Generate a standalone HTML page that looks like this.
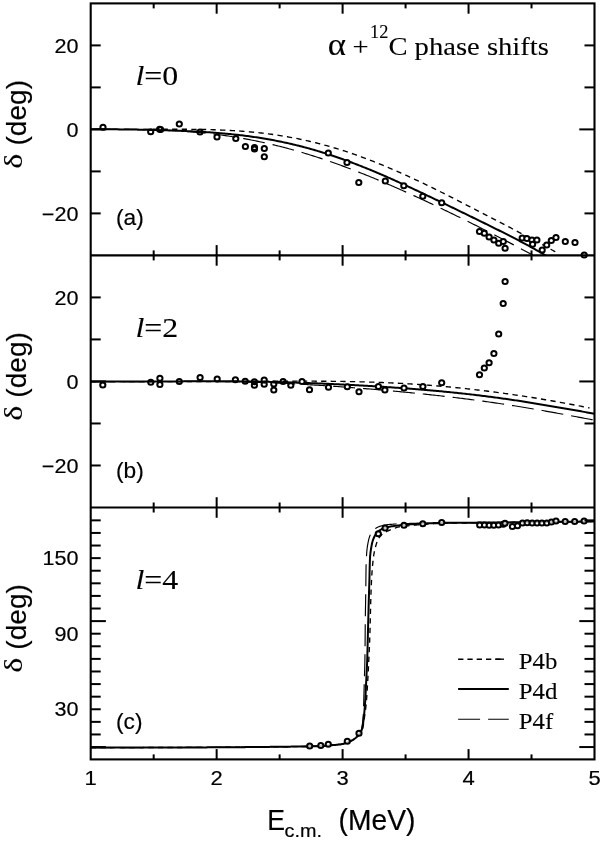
<!DOCTYPE html>
<html lang="en"><head><meta charset="utf-8"><title>alpha + 12C phase shifts</title>
<style>html,body{margin:0;padding:0;background:#fff}svg{display:block}.h{font-family:"Liberation Sans", Arial, Helvetica, sans-serif;fill:#000;stroke:#000;stroke-width:.18px}.t{font-family:"Liberation Serif", "Times New Roman", Times, serif;fill:#000;stroke:#000;stroke-width:.1px}</style></head><body>
<svg width="600" height="842" viewBox="0 0 600 842">
<rect x="0" y="0" width="600" height="842" fill="#fff"/>
<g fill="none" stroke="#000" stroke-linejoin="round">
<clipPath id="ca"><rect x="90.7" y="3.4" width="503.80" height="252.00"/></clipPath>
<g clip-path="url(#ca)">
<path d="M90.70,129.35 L120.00,129.35 L121.46,129.35 L122.91,129.35 L124.37,129.35 L125.83,129.35 L127.28,129.35 L128.74,129.34 L130.20,129.34 L131.65,129.34 L133.11,129.34 L134.57,129.34 L136.02,129.33 L137.48,129.33 L138.93,129.33 L140.39,129.32 L141.85,129.32 L143.30,129.31 L144.76,129.31 L146.22,129.30 L147.67,129.30 L149.13,129.29 L150.59,129.29 L152.04,129.28 L153.50,129.28 L154.96,129.27 L156.41,129.27 L157.87,129.27 L159.33,129.26 L160.78,129.26 L162.24,129.25 L163.70,129.25 L165.15,129.25 L166.61,129.24 L168.07,129.24 L169.52,129.24 L170.98,129.24 L172.43,129.24 L173.89,129.24 L175.35,129.24 L176.80,129.24 L178.26,129.24 L179.72,129.24 L181.17,129.25 L182.63,129.25 L184.09,129.26 L185.54,129.27 L187.00,129.28 L188.46,129.29 L189.91,129.30 L191.37,129.31 L192.83,129.33 L194.28,129.34 L195.74,129.36 L197.20,129.38 L198.65,129.40 L200.11,129.43 L201.57,129.45 L203.02,129.48 L204.48,129.51 L205.93,129.54 L207.39,129.57 L208.85,129.61 L210.30,129.65 L211.76,129.69 L213.22,129.73 L214.67,129.78 L216.13,129.83 L217.59,129.88 L219.04,129.93 L220.50,129.99 L221.96,130.05 L223.41,130.11 L224.87,130.18 L226.33,130.25 L227.78,130.32 L229.24,130.40 L230.70,130.48 L232.15,130.56 L233.61,130.64 L235.07,130.73 L236.52,130.83 L237.98,130.92 L239.43,131.02 L240.89,131.13 L242.35,131.23 L243.80,131.35 L245.26,131.46 L246.72,131.58 L248.17,131.71 L249.63,131.83 L251.09,131.97 L252.54,132.10 L254.00,132.24 L255.46,132.39 L256.91,132.54 L258.37,132.69 L259.83,132.85 L261.28,133.02 L262.74,133.18 L264.20,133.36 L265.65,133.53 L267.11,133.72 L268.57,133.90 L270.02,134.09 L271.48,134.29 L272.93,134.49 L274.39,134.70 L275.85,134.91 L277.30,135.13 L278.76,135.35 L280.22,135.58 L281.67,135.81 L283.13,136.05 L284.59,136.29 L286.04,136.54 L287.50,136.79 L288.96,137.05 L290.41,137.31 L291.87,137.58 L293.33,137.86 L294.78,138.14 L296.24,138.42 L297.70,138.71 L299.15,139.01 L300.61,139.31 L302.07,139.62 L303.52,139.93 L304.98,140.25 L306.43,140.58 L307.89,140.91 L309.35,141.24 L310.80,141.58 L312.26,141.93 L313.72,142.28 L315.17,142.64 L316.63,143.01 L318.09,143.37 L319.54,143.75 L321.00,144.13 L322.46,144.52 L323.91,144.91 L325.37,145.30 L326.83,145.71 L328.28,146.12 L329.74,146.53 L331.20,146.95 L332.65,147.38 L334.11,147.81 L335.57,148.24 L337.02,148.68 L338.48,149.13 L339.93,149.58 L341.39,150.04 L342.85,150.51 L344.30,150.97 L345.76,151.45 L347.22,151.93 L348.67,152.41 L350.13,152.90 L351.59,153.40 L353.04,153.90 L354.50,154.41 L355.96,154.92 L357.41,155.43 L358.87,155.96 L360.33,156.48 L361.78,157.01 L363.24,157.55 L364.70,158.09 L366.15,158.64 L367.61,159.19 L369.07,159.75 L370.52,160.31 L371.98,160.87 L373.43,161.44 L374.89,162.02 L376.35,162.60 L377.80,163.18 L379.26,163.77 L380.72,164.36 L382.17,164.96 L383.63,165.56 L385.09,166.17 L386.54,166.78 L388.00,167.39 L389.46,168.01 L390.91,168.63 L392.37,169.26 L393.83,169.89 L395.28,170.52 L396.74,171.16 L398.20,171.80 L399.65,172.45 L401.11,173.10 L402.57,173.75 L404.02,174.41 L405.48,175.07 L406.93,175.73 L408.39,176.40 L409.85,177.07 L411.30,177.74 L412.76,178.41 L414.22,179.09 L415.67,179.78 L417.13,180.46 L418.59,181.15 L420.04,181.84 L421.50,182.53 L422.96,183.23 L424.41,183.93 L425.87,184.63 L427.33,185.33 L428.78,186.04 L430.24,186.75 L431.70,187.46 L433.15,188.17 L434.61,188.88 L436.07,189.60 L437.52,190.32 L438.98,191.04 L440.43,191.76 L441.89,192.49 L443.35,193.22 L444.80,193.94 L446.26,194.67 L447.72,195.40 L449.17,196.14 L450.63,196.87 L452.09,197.61 L453.54,198.35 L455.00,199.08 L456.46,199.82 L457.91,200.56 L459.37,201.31 L460.83,202.05 L462.28,202.79 L463.74,203.54 L465.20,204.29 L466.65,205.03 L468.11,205.78 L469.57,206.53 L471.02,207.28 L472.48,208.03 L473.93,208.78 L475.39,209.53 L476.85,210.29 L478.30,211.04 L479.76,211.79 L481.22,212.55 L482.67,213.30 L484.13,214.06 L485.59,214.81 L487.04,215.57 L488.50,216.33 L489.96,217.08 L491.41,217.84 L492.87,218.60 L494.33,219.36 L495.78,220.11 L497.24,220.87 L498.70,221.63 L500.15,222.39 L501.61,223.15 L503.07,223.91 L504.52,224.67 L505.98,225.44 L507.43,226.20 L508.89,226.96 L510.35,227.72 L511.80,228.48 L513.26,229.25 L514.72,230.01 L516.17,230.78 L517.63,231.54 L519.09,232.31 L520.54,233.08 L522.00,233.84 L523.46,234.61 L524.91,235.38 L526.37,236.15 L527.83,236.92 L529.28,237.69 L530.74,238.47 L532.20,239.24 L533.65,240.02 L535.11,240.80 L536.57,241.58 L538.02,242.36 L539.48,243.14 L540.93,243.92 L542.39,244.71 L543.85,245.50 L545.30,246.29 L546.76,247.08 L548.22,247.88 L549.67,248.67 L551.13,249.47 L552.59,250.28 L554.04,251.08 L555.50,251.89" stroke-width="1.35" stroke-dasharray="5.3 4.3" stroke-dashoffset="-4.6"/>
<path d="M90.70,129.35 L110.00,129.35 L111.42,129.35 L112.85,129.35 L114.27,129.35 L115.70,129.35 L117.12,129.36 L118.55,129.36 L119.97,129.36 L121.40,129.37 L122.82,129.37 L124.25,129.38 L125.67,129.39 L127.10,129.39 L128.52,129.40 L129.95,129.41 L131.37,129.43 L132.80,129.44 L134.22,129.45 L135.65,129.47 L137.07,129.49 L138.49,129.51 L139.92,129.53 L141.34,129.55 L142.77,129.57 L144.19,129.60 L145.62,129.63 L147.04,129.66 L148.47,129.69 L149.89,129.73 L151.32,129.76 L152.74,129.80 L154.17,129.84 L155.59,129.88 L157.02,129.93 L158.44,129.98 L159.87,130.02 L161.29,130.08 L162.72,130.13 L164.14,130.19 L165.57,130.25 L166.99,130.31 L168.41,130.38 L169.84,130.44 L171.26,130.52 L172.69,130.59 L174.11,130.67 L175.54,130.74 L176.96,130.83 L178.39,130.91 L179.81,131.00 L181.24,131.09 L182.66,131.19 L184.09,131.28 L185.51,131.38 L186.94,131.49 L188.36,131.60 L189.79,131.71 L191.21,131.82 L192.64,131.94 L194.06,132.06 L195.48,132.18 L196.91,132.31 L198.33,132.44 L199.76,132.58 L201.18,132.71 L202.61,132.86 L204.03,133.00 L205.46,133.15 L206.88,133.30 L208.31,133.46 L209.73,133.62 L211.16,133.78 L212.58,133.95 L214.01,134.12 L215.43,134.29 L216.86,134.47 L218.28,134.66 L219.71,134.84 L221.13,135.03 L222.56,135.23 L223.98,135.43 L225.40,135.63 L226.83,135.83 L228.25,136.04 L229.68,136.26 L231.10,136.48 L232.53,136.70 L233.95,136.92 L235.38,137.15 L236.80,137.39 L238.23,137.62 L239.65,137.87 L241.08,138.11 L242.50,138.36 L243.93,138.62 L245.35,138.88 L246.78,139.14 L248.20,139.41 L249.63,139.68 L251.05,139.95 L252.47,140.23 L253.90,140.51 L255.32,140.80 L256.75,141.09 L258.17,141.39 L259.60,141.69 L261.02,141.99 L262.45,142.30 L263.87,142.61 L265.30,142.93 L266.72,143.25 L268.15,143.57 L269.57,143.90 L271.00,144.23 L272.42,144.57 L273.85,144.91 L275.27,145.25 L276.70,145.60 L278.12,145.96 L279.55,146.31 L280.97,146.67 L282.39,147.04 L283.82,147.41 L285.24,147.78 L286.67,148.16 L288.09,148.54 L289.52,148.93 L290.94,149.32 L292.37,149.71 L293.79,150.11 L295.22,150.51 L296.64,150.91 L298.07,151.32 L299.49,151.73 L300.92,152.15 L302.34,152.57 L303.77,153.00 L305.19,153.43 L306.62,153.86 L308.04,154.29 L309.46,154.73 L310.89,155.18 L312.31,155.63 L313.74,156.08 L315.16,156.53 L316.59,156.99 L318.01,157.45 L319.44,157.92 L320.86,158.39 L322.29,158.86 L323.71,159.34 L325.14,159.82 L326.56,160.30 L327.99,160.79 L329.41,161.28 L330.84,161.78 L332.26,162.27 L333.69,162.77 L335.11,163.28 L336.54,163.79 L337.96,164.30 L339.38,164.81 L340.81,165.33 L342.23,165.85 L343.66,166.38 L345.08,166.91 L346.51,167.44 L347.93,167.97 L349.36,168.51 L350.78,169.05 L352.21,169.59 L353.63,170.14 L355.06,170.69 L356.48,171.24 L357.91,171.80 L359.33,172.35 L360.76,172.92 L362.18,173.48 L363.61,174.05 L365.03,174.62 L366.45,175.19 L367.88,175.76 L369.30,176.34 L370.73,176.92 L372.15,177.51 L373.58,178.09 L375.00,178.68 L376.43,179.27 L377.85,179.87 L379.28,180.46 L380.70,181.06 L382.13,181.67 L383.55,182.27 L384.98,182.88 L386.40,183.48 L387.83,184.10 L389.25,184.71 L390.68,185.33 L392.10,185.94 L393.53,186.56 L394.95,187.19 L396.37,187.81 L397.80,188.44 L399.22,189.07 L400.65,189.70 L402.07,190.33 L403.50,190.97 L404.92,191.60 L406.35,192.24 L407.77,192.89 L409.20,193.53 L410.62,194.17 L412.05,194.82 L413.47,195.47 L414.90,196.12 L416.32,196.77 L417.75,197.43 L419.17,198.08 L420.60,198.74 L422.02,199.40 L423.44,200.06 L424.87,200.73 L426.29,201.39 L427.72,202.06 L429.14,202.73 L430.57,203.39 L431.99,204.07 L433.42,204.74 L434.84,205.41 L436.27,206.09 L437.69,206.77 L439.12,207.45 L440.54,208.13 L441.97,208.81 L443.39,209.49 L444.82,210.17 L446.24,210.86 L447.67,211.55 L449.09,212.24 L450.52,212.93 L451.94,213.62 L453.36,214.31 L454.79,215.01 L456.21,215.70 L457.64,216.40 L459.06,217.10 L460.49,217.80 L461.91,218.50 L463.34,219.20 L464.76,219.90 L466.19,220.61 L467.61,221.31 L469.04,222.02 L470.46,222.73 L471.89,223.44 L473.31,224.15 L474.74,224.86 L476.16,225.58 L477.59,226.29 L479.01,227.01 L480.43,227.73 L481.86,228.45 L483.28,229.17 L484.71,229.89 L486.13,230.61 L487.56,231.34 L488.98,232.06 L490.41,232.79 L491.83,233.52 L493.26,234.25 L494.68,234.98 L496.11,235.71 L497.53,236.45 L498.96,237.18 L500.38,237.92 L501.81,238.66 L503.23,239.40 L504.66,240.14 L506.08,240.89 L507.51,241.63 L508.93,242.38 L510.35,243.13 L511.78,243.88 L513.20,244.63 L514.63,245.38 L516.05,246.14 L517.48,246.90 L518.90,247.66 L520.33,248.42 L521.75,249.19 L523.18,249.95 L524.60,250.72 L526.03,251.49 L527.45,252.26 L528.88,253.04 L530.30,253.82 L531.73,254.60 L533.15,255.38 L534.58,256.16 L536.00,256.95" stroke-width="1.15" stroke-dasharray="22 8" stroke-dashoffset="-3.0"/>
<path d="M90.70,129.35 L110.00,129.35 L111.46,129.35 L112.93,129.35 L114.39,129.36 L115.86,129.37 L117.32,129.37 L118.79,129.38 L120.25,129.40 L121.72,129.41 L123.18,129.42 L124.65,129.44 L126.11,129.46 L127.58,129.48 L129.04,129.50 L130.51,129.52 L131.97,129.54 L133.44,129.56 L134.90,129.59 L136.37,129.61 L137.83,129.64 L139.30,129.67 L140.76,129.69 L142.23,129.72 L143.69,129.75 L145.16,129.78 L146.62,129.81 L148.09,129.85 L149.55,129.88 L151.02,129.92 L152.48,129.95 L153.95,129.99 L155.41,130.02 L156.88,130.06 L158.34,130.10 L159.81,130.14 L161.27,130.18 L162.74,130.22 L164.20,130.27 L165.67,130.31 L167.13,130.35 L168.60,130.40 L170.06,130.45 L171.53,130.50 L172.99,130.55 L174.45,130.60 L175.92,130.65 L177.38,130.71 L178.85,130.76 L180.31,130.82 L181.78,130.88 L183.24,130.94 L184.71,131.00 L186.17,131.06 L187.64,131.13 L189.10,131.19 L190.57,131.26 L192.03,131.33 L193.50,131.41 L194.96,131.48 L196.43,131.56 L197.89,131.64 L199.36,131.72 L200.82,131.80 L202.29,131.89 L203.75,131.98 L205.22,132.07 L206.68,132.16 L208.15,132.26 L209.61,132.36 L211.08,132.46 L212.54,132.57 L214.01,132.67 L215.47,132.79 L216.94,132.90 L218.40,133.02 L219.87,133.14 L221.33,133.26 L222.80,133.38 L224.26,133.51 L225.73,133.65 L227.19,133.78 L228.66,133.92 L230.12,134.07 L231.59,134.22 L233.05,134.37 L234.52,134.52 L235.98,134.68 L237.44,134.84 L238.91,135.01 L240.37,135.18 L241.84,135.36 L243.30,135.53 L244.77,135.72 L246.23,135.90 L247.70,136.10 L249.16,136.29 L250.63,136.49 L252.09,136.70 L253.56,136.91 L255.02,137.12 L256.49,137.34 L257.95,137.56 L259.42,137.79 L260.88,138.02 L262.35,138.26 L263.81,138.50 L265.28,138.75 L266.74,139.00 L268.21,139.26 L269.67,139.52 L271.14,139.79 L272.60,140.06 L274.07,140.34 L275.53,140.62 L277.00,140.90 L278.46,141.20 L279.93,141.49 L281.39,141.80 L282.86,142.11 L284.32,142.42 L285.79,142.74 L287.25,143.06 L288.72,143.39 L290.18,143.72 L291.65,144.06 L293.11,144.41 L294.58,144.76 L296.04,145.12 L297.51,145.48 L298.97,145.84 L300.43,146.21 L301.90,146.59 L303.36,146.97 L304.83,147.36 L306.29,147.76 L307.76,148.15 L309.22,148.56 L310.69,148.97 L312.15,149.38 L313.62,149.80 L315.08,150.23 L316.55,150.66 L318.01,151.10 L319.48,151.54 L320.94,151.98 L322.41,152.43 L323.87,152.89 L325.34,153.35 L326.80,153.82 L328.27,154.29 L329.73,154.77 L331.20,155.25 L332.66,155.74 L334.13,156.23 L335.59,156.73 L337.06,157.23 L338.52,157.74 L339.99,158.25 L341.45,158.77 L342.92,159.29 L344.38,159.82 L345.85,160.35 L347.31,160.89 L348.78,161.43 L350.24,161.97 L351.71,162.52 L353.17,163.08 L354.64,163.63 L356.10,164.20 L357.57,164.76 L359.03,165.34 L360.49,165.91 L361.96,166.49 L363.42,167.07 L364.89,167.66 L366.35,168.25 L367.82,168.85 L369.28,169.45 L370.75,170.05 L372.21,170.66 L373.68,171.27 L375.14,171.88 L376.61,172.50 L378.07,173.12 L379.54,173.74 L381.00,174.37 L382.47,175.00 L383.93,175.64 L385.40,176.27 L386.86,176.91 L388.33,177.56 L389.79,178.20 L391.26,178.85 L392.72,179.50 L394.19,180.16 L395.65,180.81 L397.12,181.47 L398.58,182.13 L400.05,182.80 L401.51,183.47 L402.98,184.13 L404.44,184.80 L405.91,185.48 L407.37,186.15 L408.84,186.83 L410.30,187.51 L411.77,188.19 L413.23,188.87 L414.70,189.56 L416.16,190.24 L417.63,190.93 L419.09,191.62 L420.56,192.31 L422.02,193.00 L423.48,193.69 L424.95,194.39 L426.41,195.08 L427.88,195.78 L429.34,196.48 L430.81,197.18 L432.27,197.88 L433.74,198.58 L435.20,199.28 L436.67,199.98 L438.13,200.69 L439.60,201.39 L441.06,202.10 L442.53,202.80 L443.99,203.51 L445.46,204.22 L446.92,204.92 L448.39,205.63 L449.85,206.34 L451.32,207.05 L452.78,207.76 L454.25,208.47 L455.71,209.18 L457.18,209.89 L458.64,210.60 L460.11,211.31 L461.57,212.03 L463.04,212.74 L464.50,213.45 L465.97,214.16 L467.43,214.88 L468.90,215.59 L470.36,216.31 L471.83,217.02 L473.29,217.74 L474.76,218.45 L476.22,219.17 L477.69,219.88 L479.15,220.60 L480.62,221.32 L482.08,222.04 L483.55,222.76 L485.01,223.48 L486.47,224.20 L487.94,224.92 L489.40,225.64 L490.87,226.37 L492.33,227.09 L493.80,227.82 L495.26,228.55 L496.73,229.28 L498.19,230.01 L499.66,230.74 L501.12,231.48 L502.59,232.21 L504.05,232.95 L505.52,233.69 L506.98,234.43 L508.45,235.18 L509.91,235.93 L511.38,236.68 L512.84,237.43 L514.31,238.18 L515.77,238.94 L517.24,239.71 L518.70,240.47 L520.17,241.24 L521.63,242.02 L523.10,242.80 L524.56,243.58 L526.03,244.37 L527.49,245.16 L528.96,245.96 L530.42,246.76 L531.89,247.57 L533.35,248.39 L534.82,249.21 L536.28,250.04 L537.75,250.87 L539.21,251.72 L540.68,252.57 L542.14,253.42 L543.61,254.29 L545.07,255.17 L546.54,256.05 L548.00,256.94" stroke-width="2.0"/>
</g>
<path d="M90.70,381.55 L150.00,381.55 L151.47,381.55 L152.94,381.55 L154.41,381.55 L155.88,381.55 L157.35,381.56 L158.82,381.56 L160.29,381.56 L161.76,381.56 L163.23,381.57 L164.70,381.57 L166.17,381.57 L167.64,381.57 L169.11,381.58 L170.58,381.58 L172.05,381.58 L173.52,381.59 L174.99,381.59 L176.46,381.59 L177.93,381.60 L179.40,381.60 L180.87,381.60 L182.34,381.60 L183.81,381.61 L185.28,381.61 L186.75,381.61 L188.22,381.61 L189.69,381.61 L191.16,381.62 L192.63,381.62 L194.10,381.62 L195.57,381.62 L197.04,381.62 L198.51,381.62 L199.98,381.62 L201.45,381.62 L202.92,381.62 L204.39,381.61 L205.86,381.61 L207.33,381.61 L208.80,381.61 L210.27,381.61 L211.74,381.60 L213.21,381.60 L214.68,381.60 L216.15,381.59 L217.62,381.59 L219.09,381.58 L220.56,381.58 L222.03,381.57 L223.49,381.57 L224.96,381.56 L226.43,381.56 L227.90,381.55 L229.37,381.55 L230.84,381.54 L232.31,381.53 L233.78,381.52 L235.25,381.52 L236.72,381.51 L238.19,381.50 L239.66,381.49 L241.13,381.49 L242.60,381.48 L244.07,381.47 L245.54,381.46 L247.01,381.45 L248.48,381.44 L249.95,381.43 L251.42,381.42 L252.89,381.41 L254.36,381.40 L255.83,381.40 L257.30,381.39 L258.77,381.38 L260.24,381.37 L261.71,381.36 L263.18,381.35 L264.65,381.34 L266.12,381.33 L267.59,381.32 L269.06,381.31 L270.53,381.30 L272.00,381.29 L273.47,381.29 L274.94,381.28 L276.41,381.27 L277.88,381.26 L279.35,381.25 L280.82,381.25 L282.29,381.24 L283.76,381.23 L285.23,381.22 L286.70,381.22 L288.17,381.21 L289.64,381.21 L291.11,381.20 L292.58,381.20 L294.05,381.19 L295.52,381.19 L296.99,381.19 L298.46,381.18 L299.93,381.18 L301.40,381.18 L302.87,381.18 L304.34,381.18 L305.81,381.18 L307.28,381.18 L308.75,381.18 L310.22,381.18 L311.69,381.19 L313.16,381.19 L314.63,381.19 L316.10,381.20 L317.57,381.20 L319.04,381.21 L320.51,381.22 L321.98,381.23 L323.45,381.23 L324.92,381.24 L326.39,381.26 L327.86,381.27 L329.33,381.28 L330.80,381.29 L332.27,381.31 L333.74,381.32 L335.21,381.34 L336.68,381.36 L338.15,381.38 L339.62,381.40 L341.09,381.42 L342.56,381.44 L344.03,381.46 L345.50,381.49 L346.97,381.51 L348.44,381.54 L349.91,381.57 L351.38,381.60 L352.85,381.63 L354.32,381.66 L355.79,381.69 L357.26,381.73 L358.73,381.76 L360.20,381.80 L361.67,381.84 L363.14,381.88 L364.61,381.92 L366.08,381.96 L367.55,382.00 L369.02,382.05 L370.48,382.09 L371.95,382.14 L373.42,382.19 L374.89,382.24 L376.36,382.29 L377.83,382.35 L379.30,382.40 L380.77,382.46 L382.24,382.52 L383.71,382.58 L385.18,382.64 L386.65,382.70 L388.12,382.77 L389.59,382.83 L391.06,382.90 L392.53,382.97 L394.00,383.04 L395.47,383.12 L396.94,383.19 L398.41,383.27 L399.88,383.34 L401.35,383.42 L402.82,383.50 L404.29,383.59 L405.76,383.67 L407.23,383.76 L408.70,383.84 L410.17,383.93 L411.64,384.02 L413.11,384.12 L414.58,384.21 L416.05,384.31 L417.52,384.41 L418.99,384.51 L420.46,384.61 L421.93,384.71 L423.40,384.82 L424.87,384.92 L426.34,385.03 L427.81,385.14 L429.28,385.26 L430.75,385.37 L432.22,385.49 L433.69,385.60 L435.16,385.72 L436.63,385.84 L438.10,385.97 L439.57,386.09 L441.04,386.22 L442.51,386.35 L443.98,386.48 L445.45,386.61 L446.92,386.74 L448.39,386.88 L449.86,387.02 L451.33,387.16 L452.80,387.30 L454.27,387.44 L455.74,387.59 L457.21,387.73 L458.68,387.88 L460.15,388.03 L461.62,388.18 L463.09,388.34 L464.56,388.49 L466.03,388.65 L467.50,388.81 L468.97,388.97 L470.44,389.13 L471.91,389.30 L473.38,389.46 L474.85,389.63 L476.32,389.80 L477.79,389.97 L479.26,390.15 L480.73,390.32 L482.20,390.50 L483.67,390.68 L485.14,390.86 L486.61,391.04 L488.08,391.22 L489.55,391.41 L491.02,391.60 L492.49,391.79 L493.96,391.98 L495.43,392.17 L496.90,392.37 L498.37,392.56 L499.84,392.76 L501.31,392.96 L502.78,393.16 L504.25,393.36 L505.72,393.57 L507.19,393.78 L508.66,393.98 L510.13,394.19 L511.60,394.41 L513.07,394.62 L514.54,394.83 L516.01,395.05 L517.47,395.27 L518.94,395.49 L520.41,395.71 L521.88,395.93 L523.35,396.16 L524.82,396.38 L526.29,396.61 L527.76,396.84 L529.23,397.07 L530.70,397.31 L532.17,397.54 L533.64,397.78 L535.11,398.02 L536.58,398.26 L538.05,398.50 L539.52,398.74 L540.99,398.99 L542.46,399.23 L543.93,399.48 L545.40,399.73 L546.87,399.98 L548.34,400.23 L549.81,400.49 L551.28,400.74 L552.75,401.00 L554.22,401.26 L555.69,401.52 L557.16,401.79 L558.63,402.05 L560.10,402.32 L561.57,402.58 L563.04,402.85 L564.51,403.12 L565.98,403.40 L567.45,403.67 L568.92,403.95 L570.39,404.22 L571.86,404.50 L573.33,404.78 L574.80,405.07 L576.27,405.35 L577.74,405.64 L579.21,405.92 L580.68,406.21 L582.15,406.51 L583.62,406.80 L585.09,407.09 L586.56,407.39 L588.03,407.69 L589.50,407.99" stroke-width="1.35" stroke-dasharray="5.3 4.3" stroke-dashoffset="0"/>
<path d="M90.70,381.55 L150.00,381.55 L151.49,381.55 L152.97,381.55 L154.46,381.55 L155.95,381.54 L157.43,381.54 L158.92,381.53 L160.41,381.53 L161.89,381.52 L163.38,381.52 L164.87,381.51 L166.35,381.51 L167.84,381.50 L169.33,381.49 L170.81,381.49 L172.30,381.48 L173.79,381.47 L175.27,381.47 L176.76,381.46 L178.25,381.45 L179.73,381.45 L181.22,381.44 L182.71,381.44 L184.19,381.43 L185.68,381.43 L187.17,381.43 L188.65,381.42 L190.14,381.42 L191.63,381.42 L193.11,381.42 L194.60,381.42 L196.09,381.42 L197.57,381.42 L199.06,381.42 L200.55,381.42 L202.03,381.43 L203.52,381.43 L205.01,381.44 L206.49,381.44 L207.98,381.45 L209.46,381.46 L210.95,381.47 L212.44,381.48 L213.92,381.49 L215.41,381.50 L216.90,381.52 L218.38,381.53 L219.87,381.55 L221.36,381.57 L222.84,381.58 L224.33,381.60 L225.82,381.62 L227.30,381.65 L228.79,381.67 L230.28,381.69 L231.76,381.72 L233.25,381.75 L234.74,381.77 L236.22,381.80 L237.71,381.83 L239.20,381.87 L240.68,381.90 L242.17,381.93 L243.66,381.97 L245.14,382.01 L246.63,382.04 L248.12,382.08 L249.60,382.12 L251.09,382.16 L252.58,382.21 L254.06,382.25 L255.55,382.30 L257.04,382.34 L258.52,382.39 L260.01,382.44 L261.50,382.49 L262.98,382.54 L264.47,382.60 L265.96,382.65 L267.44,382.71 L268.93,382.76 L270.42,382.82 L271.90,382.88 L273.39,382.94 L274.88,383.00 L276.36,383.06 L277.85,383.13 L279.34,383.19 L280.82,383.26 L282.31,383.33 L283.80,383.40 L285.28,383.46 L286.77,383.54 L288.26,383.61 L289.74,383.68 L291.23,383.75 L292.72,383.83 L294.20,383.91 L295.69,383.98 L297.18,384.06 L298.66,384.14 L300.15,384.22 L301.64,384.30 L303.12,384.39 L304.61,384.47 L306.10,384.55 L307.58,384.64 L309.07,384.73 L310.56,384.81 L312.04,384.90 L313.53,384.99 L315.02,385.08 L316.50,385.17 L317.99,385.27 L319.47,385.36 L320.96,385.45 L322.45,385.55 L323.93,385.64 L325.42,385.74 L326.91,385.84 L328.39,385.94 L329.88,386.04 L331.37,386.14 L332.85,386.24 L334.34,386.34 L335.83,386.45 L337.31,386.55 L338.80,386.66 L340.29,386.76 L341.77,386.87 L343.26,386.98 L344.75,387.08 L346.23,387.19 L347.72,387.30 L349.21,387.41 L350.69,387.53 L352.18,387.64 L353.67,387.75 L355.15,387.87 L356.64,387.98 L358.13,388.10 L359.61,388.21 L361.10,388.33 L362.59,388.45 L364.07,388.57 L365.56,388.69 L367.05,388.81 L368.53,388.93 L370.02,389.05 L371.51,389.18 L372.99,389.30 L374.48,389.43 L375.97,389.55 L377.45,389.68 L378.94,389.81 L380.43,389.93 L381.91,390.06 L383.40,390.19 L384.89,390.32 L386.37,390.45 L387.86,390.59 L389.35,390.72 L390.83,390.85 L392.32,390.99 L393.81,391.12 L395.29,391.26 L396.78,391.40 L398.27,391.54 L399.75,391.68 L401.24,391.82 L402.73,391.96 L404.21,392.10 L405.70,392.24 L407.19,392.39 L408.67,392.53 L410.16,392.68 L411.65,392.82 L413.13,392.97 L414.62,393.12 L416.11,393.27 L417.59,393.42 L419.08,393.57 L420.57,393.72 L422.05,393.88 L423.54,394.03 L425.03,394.19 L426.51,394.34 L428.00,394.50 L429.48,394.66 L430.97,394.82 L432.46,394.98 L433.94,395.14 L435.43,395.30 L436.92,395.47 L438.40,395.63 L439.89,395.80 L441.38,395.97 L442.86,396.14 L444.35,396.31 L445.84,396.48 L447.32,396.65 L448.81,396.82 L450.30,397.00 L451.78,397.17 L453.27,397.35 L454.76,397.53 L456.24,397.71 L457.73,397.89 L459.22,398.07 L460.70,398.25 L462.19,398.44 L463.68,398.63 L465.16,398.81 L466.65,399.00 L468.14,399.19 L469.62,399.38 L471.11,399.58 L472.60,399.77 L474.08,399.97 L475.57,400.16 L477.06,400.36 L478.54,400.56 L480.03,400.76 L481.52,400.97 L483.00,401.17 L484.49,401.38 L485.98,401.58 L487.46,401.79 L488.95,402.00 L490.44,402.21 L491.92,402.42 L493.41,402.64 L494.90,402.85 L496.38,403.07 L497.87,403.29 L499.36,403.51 L500.84,403.73 L502.33,403.96 L503.82,404.18 L505.30,404.41 L506.79,404.63 L508.28,404.86 L509.76,405.09 L511.25,405.33 L512.74,405.56 L514.22,405.80 L515.71,406.03 L517.20,406.27 L518.68,406.51 L520.17,406.75 L521.66,406.99 L523.14,407.24 L524.63,407.48 L526.12,407.73 L527.60,407.98 L529.09,408.23 L530.58,408.48 L532.06,408.73 L533.55,408.98 L535.04,409.24 L536.52,409.49 L538.01,409.75 L539.49,410.01 L540.98,410.27 L542.47,410.53 L543.95,410.79 L545.44,411.06 L546.93,411.32 L548.41,411.59 L549.90,411.85 L551.39,412.12 L552.87,412.39 L554.36,412.66 L555.85,412.93 L557.33,413.20 L558.82,413.47 L560.31,413.75 L561.79,414.02 L563.28,414.29 L564.77,414.57 L566.25,414.85 L567.74,415.12 L569.23,415.40 L570.71,415.68 L572.20,415.96 L573.69,416.23 L575.17,416.51 L576.66,416.79 L578.15,417.07 L579.63,417.35 L581.12,417.63 L582.61,417.91 L584.09,418.19 L585.58,418.47 L587.07,418.75 L588.55,419.02 L590.04,419.30 L591.53,419.58 L593.01,419.86 L594.50,420.13" stroke-width="1.15" stroke-dasharray="22 8" stroke-dashoffset="-2.5"/>
<path d="M90.70,381.55 L150.00,381.55 L151.49,381.55 L152.97,381.55 L154.46,381.54 L155.95,381.54 L157.43,381.54 L158.92,381.53 L160.41,381.52 L161.89,381.52 L163.38,381.51 L164.87,381.50 L166.35,381.49 L167.84,381.48 L169.33,381.47 L170.81,381.46 L172.30,381.45 L173.79,381.44 L175.27,381.43 L176.76,381.42 L178.25,381.41 L179.73,381.40 L181.22,381.39 L182.71,381.38 L184.19,381.37 L185.68,381.36 L187.17,381.35 L188.65,381.34 L190.14,381.33 L191.63,381.32 L193.11,381.31 L194.60,381.31 L196.09,381.30 L197.57,381.29 L199.06,381.28 L200.55,381.28 L202.03,381.27 L203.52,381.27 L205.01,381.26 L206.49,381.26 L207.98,381.26 L209.46,381.26 L210.95,381.25 L212.44,381.25 L213.92,381.25 L215.41,381.25 L216.90,381.25 L218.38,381.26 L219.87,381.26 L221.36,381.26 L222.84,381.27 L224.33,381.27 L225.82,381.28 L227.30,381.29 L228.79,381.30 L230.28,381.30 L231.76,381.31 L233.25,381.33 L234.74,381.34 L236.22,381.35 L237.71,381.36 L239.20,381.38 L240.68,381.39 L242.17,381.41 L243.66,381.43 L245.14,381.44 L246.63,381.46 L248.12,381.48 L249.60,381.50 L251.09,381.53 L252.58,381.55 L254.06,381.57 L255.55,381.60 L257.04,381.62 L258.52,381.65 L260.01,381.68 L261.50,381.70 L262.98,381.73 L264.47,381.76 L265.96,381.80 L267.44,381.83 L268.93,381.86 L270.42,381.89 L271.90,381.93 L273.39,381.96 L274.88,382.00 L276.36,382.04 L277.85,382.08 L279.34,382.12 L280.82,382.16 L282.31,382.20 L283.80,382.24 L285.28,382.28 L286.77,382.32 L288.26,382.37 L289.74,382.41 L291.23,382.46 L292.72,382.51 L294.20,382.55 L295.69,382.60 L297.18,382.65 L298.66,382.70 L300.15,382.75 L301.64,382.81 L303.12,382.86 L304.61,382.91 L306.10,382.97 L307.58,383.02 L309.07,383.08 L310.56,383.13 L312.04,383.19 L313.53,383.25 L315.02,383.31 L316.50,383.37 L317.99,383.43 L319.47,383.49 L320.96,383.55 L322.45,383.61 L323.93,383.68 L325.42,383.74 L326.91,383.80 L328.39,383.87 L329.88,383.94 L331.37,384.00 L332.85,384.07 L334.34,384.14 L335.83,384.21 L337.31,384.28 L338.80,384.35 L340.29,384.42 L341.77,384.49 L343.26,384.57 L344.75,384.64 L346.23,384.72 L347.72,384.79 L349.21,384.87 L350.69,384.94 L352.18,385.02 L353.67,385.10 L355.15,385.18 L356.64,385.26 L358.13,385.34 L359.61,385.42 L361.10,385.50 L362.59,385.59 L364.07,385.67 L365.56,385.75 L367.05,385.84 L368.53,385.93 L370.02,386.01 L371.51,386.10 L372.99,386.19 L374.48,386.28 L375.97,386.37 L377.45,386.46 L378.94,386.55 L380.43,386.65 L381.91,386.74 L383.40,386.84 L384.89,386.93 L386.37,387.03 L387.86,387.13 L389.35,387.22 L390.83,387.32 L392.32,387.42 L393.81,387.52 L395.29,387.63 L396.78,387.73 L398.27,387.83 L399.75,387.94 L401.24,388.05 L402.73,388.15 L404.21,388.26 L405.70,388.37 L407.19,388.48 L408.67,388.59 L410.16,388.71 L411.65,388.82 L413.13,388.94 L414.62,389.05 L416.11,389.17 L417.59,389.29 L419.08,389.41 L420.57,389.53 L422.05,389.65 L423.54,389.77 L425.03,389.90 L426.51,390.02 L428.00,390.15 L429.48,390.28 L430.97,390.41 L432.46,390.54 L433.94,390.67 L435.43,390.81 L436.92,390.94 L438.40,391.08 L439.89,391.22 L441.38,391.36 L442.86,391.50 L444.35,391.64 L445.84,391.78 L447.32,391.93 L448.81,392.07 L450.30,392.22 L451.78,392.37 L453.27,392.52 L454.76,392.68 L456.24,392.83 L457.73,392.99 L459.22,393.14 L460.70,393.30 L462.19,393.46 L463.68,393.63 L465.16,393.79 L466.65,393.96 L468.14,394.12 L469.62,394.29 L471.11,394.46 L472.60,394.63 L474.08,394.81 L475.57,394.98 L477.06,395.16 L478.54,395.34 L480.03,395.52 L481.52,395.70 L483.00,395.89 L484.49,396.07 L485.98,396.26 L487.46,396.45 L488.95,396.64 L490.44,396.83 L491.92,397.03 L493.41,397.22 L494.90,397.42 L496.38,397.62 L497.87,397.82 L499.36,398.03 L500.84,398.23 L502.33,398.44 L503.82,398.65 L505.30,398.86 L506.79,399.07 L508.28,399.28 L509.76,399.50 L511.25,399.72 L512.74,399.94 L514.22,400.16 L515.71,400.38 L517.20,400.60 L518.68,400.83 L520.17,401.05 L521.66,401.28 L523.14,401.51 L524.63,401.75 L526.12,401.98 L527.60,402.21 L529.09,402.45 L530.58,402.69 L532.06,402.93 L533.55,403.17 L535.04,403.41 L536.52,403.65 L538.01,403.90 L539.49,404.14 L540.98,404.39 L542.47,404.64 L543.95,404.89 L545.44,405.14 L546.93,405.39 L548.41,405.65 L549.90,405.90 L551.39,406.15 L552.87,406.41 L554.36,406.67 L555.85,406.92 L557.33,407.18 L558.82,407.44 L560.31,407.70 L561.79,407.96 L563.28,408.22 L564.77,408.48 L566.25,408.74 L567.74,409.00 L569.23,409.27 L570.71,409.53 L572.20,409.79 L573.69,410.05 L575.17,410.31 L576.66,410.57 L578.15,410.84 L579.63,411.10 L581.12,411.36 L582.61,411.62 L584.09,411.87 L585.58,412.13 L587.07,412.39 L588.55,412.65 L590.04,412.90 L591.53,413.16 L593.01,413.41 L594.50,413.66" stroke-width="2.0"/>
<path d="M90.70,747.60 L91.85,747.60 L93.00,747.60 L94.15,747.60 L95.30,747.60 L96.45,747.60 L97.61,747.60 L98.76,747.60 L99.91,747.60 L101.06,747.60 L102.21,747.60 L103.36,747.60 L104.51,747.60 L105.66,747.60 L106.81,747.59 L107.96,747.59 L109.11,747.59 L110.27,747.59 L111.42,747.59 L112.57,747.59 L113.72,747.59 L114.87,747.59 L116.02,747.59 L117.17,747.59 L118.32,747.58 L119.47,747.58 L120.62,747.58 L121.77,747.58 L122.93,747.58 L124.08,747.58 L125.23,747.58 L126.38,747.57 L127.53,747.57 L128.68,747.57 L129.83,747.57 L130.98,747.57 L132.13,747.56 L133.28,747.56 L134.43,747.56 L135.58,747.56 L136.74,747.56 L137.89,747.56 L139.04,747.55 L140.19,747.55 L141.34,747.55 L142.49,747.55 L143.64,747.54 L144.79,747.54 L145.94,747.54 L147.09,747.54 L148.24,747.54 L149.40,747.53 L150.55,747.53 L151.70,747.53 L152.85,747.53 L154.00,747.52 L155.15,747.52 L156.30,747.52 L157.45,747.52 L158.60,747.51 L159.75,747.51 L160.90,747.51 L162.05,747.50 L163.21,747.50 L164.36,747.50 L165.51,747.50 L166.66,747.49 L167.81,747.49 L168.96,747.49 L170.11,747.48 L171.26,747.48 L172.41,747.48 L173.56,747.48 L174.71,747.47 L175.87,747.47 L177.02,747.47 L178.17,747.46 L179.32,747.46 L180.47,747.46 L181.62,747.45 L182.77,747.45 L183.92,747.45 L185.07,747.44 L186.22,747.44 L187.37,747.44 L188.53,747.43 L189.68,747.43 L190.83,747.43 L191.98,747.42 L193.13,747.42 L194.28,747.42 L195.43,747.41 L196.58,747.41 L197.73,747.41 L198.88,747.40 L200.03,747.40 L201.18,747.40 L202.34,747.39 L203.49,747.39 L204.64,747.38 L205.79,747.38 L206.94,747.38 L208.09,747.37 L209.24,747.37 L210.39,747.36 L211.54,747.36 L212.69,747.35 L213.84,747.35 L215.00,747.34 L216.15,747.34 L217.30,747.33 L218.45,747.33 L219.60,747.32 L220.75,747.31 L221.90,747.31 L223.05,747.30 L224.20,747.30 L225.35,747.29 L226.50,747.28 L227.65,747.28 L228.81,747.27 L229.96,747.26 L231.11,747.26 L232.26,747.25 L233.41,747.24 L234.56,747.23 L235.71,747.23 L236.86,747.22 L238.01,747.21 L239.16,747.20 L240.31,747.19 L241.47,747.19 L242.62,747.18 L243.77,747.17 L244.92,747.16 L246.07,747.15 L247.22,747.14 L248.37,747.13 L249.52,747.12 L250.67,747.11 L251.82,747.11 L252.97,747.10 L254.12,747.09 L255.28,747.08 L256.43,747.07 L257.58,747.06 L258.73,747.05 L259.88,747.04 L261.03,747.03 L262.18,747.01 L263.33,747.00 L264.48,746.99 L265.63,746.98 L266.78,746.97 L267.94,746.96 L269.09,746.95 L270.24,746.94 L271.39,746.93 L272.54,746.91 L273.69,746.90 L274.84,746.89 L275.99,746.88 L277.14,746.87 L278.29,746.85 L279.44,746.84 L280.59,746.83 L281.75,746.82 L282.90,746.80 L284.05,746.79 L285.20,746.78 L286.35,746.76 L287.50,746.75 L288.65,746.74 L289.80,746.72 L290.95,746.71 L292.10,746.70 L293.25,746.68 L294.40,746.67 L295.55,746.66 L296.71,746.64 L297.86,746.63 L299.01,746.61 L300.16,746.60 L301.31,746.58 L302.46,746.57 L303.61,746.55 L304.76,746.54 L305.91,746.52 L307.06,746.50 L308.21,746.48 L309.37,746.46 L310.52,746.44 L311.67,746.42 L312.82,746.39 L313.97,746.37 L315.12,746.34 L316.27,746.31 L317.42,746.28 L318.57,746.25 L319.72,746.21 L320.87,746.17 L322.02,746.11 L323.16,746.05 L324.31,745.97 L325.46,745.89 L326.61,745.79 L327.76,745.70 L328.90,745.60 L330.05,745.50 L331.20,745.40 L332.34,745.30 L333.49,745.20 L334.64,745.11 L335.79,745.02 L336.94,744.93 L338.09,744.83 L339.23,744.72 L340.37,744.58 L341.50,744.39 L342.63,744.15 L343.75,743.86 L344.87,743.54 L345.97,743.21 L347.05,742.85 L348.13,742.45 L349.20,742.01 L350.26,741.53 L351.31,741.01 L352.33,740.46 L353.32,739.89 L354.28,739.29 L355.21,738.63 L356.14,737.91 L357.03,737.15 L357.87,736.34 L358.64,735.50 L359.36,734.63 L360.07,733.71 L360.75,732.73 L361.37,731.73 L361.89,730.69 L362.29,729.65 L362.58,728.59 L362.85,727.51 L363.09,726.41 L363.31,725.28 L363.51,724.15 L363.69,723.00 L363.86,721.84 L364.02,720.68 L364.18,719.51 L364.33,718.35 L364.48,717.19 L364.64,716.04 L364.80,714.90 L364.96,713.77 L365.12,712.63 L365.28,711.48 L365.43,710.34 L365.58,709.20 L365.73,708.06 L365.86,706.92 L365.99,705.77 L366.12,704.63 L366.23,703.48 L366.33,702.34 L366.43,701.19 L366.52,700.05 L366.61,698.90 L366.70,697.75 L366.78,696.60 L366.86,695.46 L366.94,694.31 L367.01,693.16 L367.08,692.01 L367.15,690.86 L367.22,689.71 L367.29,688.56 L367.36,687.41 L367.42,686.26 L367.49,685.11 L367.55,683.96 L367.62,682.81 L367.68,681.67 L367.75,680.52 L367.82,679.37 L367.88,678.22 L367.94,677.07 L368.00,675.92 L368.07,674.77 L368.13,673.62 L368.19,672.47 L368.24,671.32 L368.30,670.17 L368.36,669.02 L368.42,667.87 L368.47,666.73 L368.53,665.58 L368.59,664.43 L368.64,663.28 L368.70,662.13 L368.75,660.98 L368.81,659.83 L368.86,658.68 L368.92,657.53 L368.97,656.38 L369.03,655.23 L369.09,654.08 L369.14,652.93 L369.20,651.78 L369.25,650.63 L369.30,649.48 L369.36,648.33 L369.41,647.18 L369.46,646.03 L369.51,644.88 L369.55,643.73 L369.60,642.58 L369.65,641.43 L369.69,640.28 L369.73,639.13 L369.77,637.98 L369.81,636.83 L369.85,635.68 L369.88,634.53 L369.92,633.38 L369.95,632.23 L369.99,631.08 L370.02,629.93 L370.05,628.78 L370.08,627.63 L370.11,626.48 L370.14,625.33 L370.17,624.18 L370.20,623.02 L370.23,621.87 L370.26,620.72 L370.28,619.57 L370.31,618.42 L370.34,617.27 L370.36,616.12 L370.39,614.97 L370.42,613.82 L370.44,612.67 L370.47,611.52 L370.50,610.36 L370.53,609.21 L370.55,608.06 L370.58,606.91 L370.61,605.76 L370.64,604.61 L370.67,603.46 L370.70,602.31 L370.73,601.16 L370.77,600.01 L370.80,598.86 L370.83,597.71 L370.87,596.56 L370.91,595.41 L370.94,594.26 L370.98,593.11 L371.02,591.96 L371.07,590.81 L371.11,589.66 L371.15,588.51 L371.20,587.36 L371.25,586.21 L371.30,585.06 L371.35,583.91 L371.40,582.76 L371.46,581.61 L371.52,580.46 L371.58,579.31 L371.64,578.16 L371.71,577.01 L371.78,575.86 L371.86,574.71 L371.93,573.56 L372.01,572.41 L372.09,571.26 L372.18,570.11 L372.27,568.96 L372.36,567.81 L372.46,566.67 L372.56,565.52 L372.67,564.37 L372.78,563.23 L372.89,562.09 L373.01,560.94 L373.13,559.80 L373.26,558.66 L373.39,557.53 L373.55,556.39 L373.72,555.25 L373.92,554.11 L374.13,552.97 L374.35,551.84 L374.59,550.71 L374.85,549.58 L375.11,548.47 L375.39,547.36 L375.68,546.24 L376.00,545.10 L376.34,543.97 L376.70,542.84 L377.10,541.74 L377.53,540.66 L378.00,539.63 L378.50,538.65 L379.06,537.73 L379.74,536.82 L380.51,535.95 L381.36,535.11 L382.26,534.32 L383.18,533.59 L384.10,532.93 L385.05,532.33 L386.05,531.78 L387.09,531.26 L388.15,530.77 L389.22,530.31 L390.30,529.86 L391.36,529.43 L392.43,529.00 L393.51,528.57 L394.60,528.17 L395.69,527.79 L396.79,527.45 L397.90,527.17 L399.02,526.94 L400.14,526.75 L401.27,526.59 L402.41,526.43 L403.56,526.30 L404.71,526.17 L405.86,526.05 L407.01,525.93 L408.16,525.82 L409.30,525.70 L410.45,525.58 L411.59,525.46 L412.74,525.34 L413.88,525.23 L415.03,525.12 L416.18,525.02 L417.32,524.92 L418.47,524.82 L419.62,524.73 L420.76,524.64 L421.91,524.56 L423.06,524.47 L424.21,524.38 L425.36,524.30 L426.50,524.22 L427.65,524.13 L428.80,524.05 L429.95,523.98 L431.10,523.90 L432.25,523.83 L433.40,523.76 L434.55,523.70 L435.70,523.64 L436.85,523.58 L438.00,523.53 L439.14,523.48 L440.29,523.44 L441.44,523.41 L442.59,523.38 L443.74,523.35 L444.89,523.32 L446.04,523.29 L447.19,523.27 L448.34,523.24 L449.49,523.22 L450.64,523.20 L451.80,523.18 L452.95,523.16 L454.10,523.14 L455.25,523.12 L456.40,523.10 L457.55,523.08 L458.70,523.06 L459.85,523.05 L461.00,523.03 L462.15,523.02 L463.30,523.00 L464.45,522.98 L465.61,522.97 L466.76,522.96 L467.91,522.94 L469.06,522.93 L470.21,522.91 L471.36,522.90 L472.51,522.89 L473.66,522.87 L474.81,522.86 L475.97,522.85 L477.12,522.83 L478.27,522.82 L479.42,522.81 L480.57,522.79 L481.72,522.78 L482.87,522.77 L484.02,522.75 L485.17,522.74 L486.32,522.73 L487.47,522.72 L488.62,522.70 L489.78,522.69 L490.93,522.68 L492.08,522.67 L493.23,522.66 L494.38,522.65 L495.53,522.64 L496.68,522.63 L497.83,522.61 L498.98,522.60 L500.13,522.59 L501.28,522.58 L502.43,522.57 L503.59,522.56 L504.74,522.55 L505.89,522.54 L507.04,522.53 L508.19,522.52 L509.34,522.51 L510.49,522.50 L511.64,522.49 L512.79,522.48 L513.94,522.46 L515.09,522.45 L516.24,522.44 L517.40,522.43 L518.55,522.42 L519.70,522.40 L520.85,522.39 L522.00,522.38 L523.15,522.36 L524.30,522.35 L525.45,522.34 L526.60,522.32 L527.75,522.31 L528.90,522.29 L530.05,522.28 L531.21,522.26 L532.36,522.25 L533.51,522.23 L534.66,522.22 L535.81,522.20 L536.96,522.19 L538.11,522.17 L539.26,522.16 L540.41,522.14 L541.56,522.12 L542.71,522.11 L543.86,522.09 L545.01,522.08 L546.17,522.06 L547.32,522.05 L548.47,522.03 L549.62,522.02 L550.77,522.01 L551.92,521.99 L553.07,521.98 L554.22,521.96 L555.37,521.95 L556.52,521.94 L557.67,521.92 L558.82,521.91 L559.97,521.90 L561.13,521.89 L562.28,521.88 L563.43,521.87 L564.58,521.85 L565.73,521.84 L566.88,521.83 L568.03,521.82 L569.18,521.81 L570.33,521.80 L571.48,521.79 L572.63,521.78 L573.78,521.77 L574.94,521.76 L576.09,521.75 L577.24,521.74 L578.39,521.73 L579.54,521.72 L580.69,521.71 L581.84,521.70 L582.99,521.69 L584.14,521.68 L585.29,521.67 L586.44,521.66 L587.59,521.65 L588.75,521.64 L589.90,521.63 L591.05,521.62 L592.20,521.62 L593.35,521.61 L594.50,521.60" stroke-width="1.35" stroke-dasharray="5.3 4.3" stroke-dashoffset="0"/>
<path d="M90.70,747.60 L91.87,747.60 L93.04,747.60 L94.20,747.60 L95.37,747.60 L96.54,747.60 L97.71,747.60 L98.88,747.60 L100.04,747.60 L101.21,747.60 L102.38,747.60 L103.55,747.60 L104.72,747.60 L105.89,747.60 L107.05,747.59 L108.22,747.59 L109.39,747.59 L110.56,747.59 L111.73,747.59 L112.89,747.59 L114.06,747.59 L115.23,747.59 L116.40,747.59 L117.57,747.59 L118.73,747.58 L119.90,747.58 L121.07,747.58 L122.24,747.58 L123.41,747.58 L124.57,747.58 L125.74,747.58 L126.91,747.57 L128.08,747.57 L129.25,747.57 L130.41,747.57 L131.58,747.57 L132.75,747.57 L133.92,747.56 L135.09,747.56 L136.25,747.56 L137.42,747.56 L138.59,747.56 L139.76,747.55 L140.93,747.55 L142.10,747.55 L143.26,747.55 L144.43,747.54 L145.60,747.54 L146.77,747.54 L147.94,747.54 L149.10,747.54 L150.27,747.53 L151.44,747.53 L152.61,747.53 L153.78,747.53 L154.94,747.52 L156.11,747.52 L157.28,747.52 L158.45,747.51 L159.62,747.51 L160.78,747.51 L161.95,747.51 L163.12,747.50 L164.29,747.50 L165.46,747.50 L166.62,747.49 L167.79,747.49 L168.96,747.49 L170.13,747.49 L171.30,747.48 L172.46,747.48 L173.63,747.48 L174.80,747.47 L175.97,747.47 L177.14,747.47 L178.30,747.46 L179.47,747.46 L180.64,747.46 L181.81,747.45 L182.98,747.45 L184.14,747.45 L185.31,747.44 L186.48,747.44 L187.65,747.44 L188.82,747.43 L189.98,747.43 L191.15,747.43 L192.32,747.42 L193.49,747.42 L194.66,747.42 L195.83,747.41 L196.99,747.41 L198.16,747.41 L199.33,747.40 L200.50,747.40 L201.67,747.39 L202.83,747.39 L204.00,747.39 L205.17,747.38 L206.34,747.38 L207.51,747.37 L208.67,747.37 L209.84,747.36 L211.01,747.36 L212.18,747.35 L213.35,747.34 L214.51,747.34 L215.68,747.33 L216.85,747.33 L218.02,747.32 L219.19,747.31 L220.35,747.30 L221.52,747.30 L222.69,747.29 L223.86,747.28 L225.03,747.27 L226.19,747.27 L227.36,747.26 L228.53,747.25 L229.70,747.24 L230.87,747.23 L232.03,747.22 L233.20,747.21 L234.37,747.20 L235.54,747.19 L236.71,747.18 L237.87,747.17 L239.04,747.16 L240.21,747.15 L241.38,747.14 L242.55,747.13 L243.72,747.12 L244.88,747.11 L246.05,747.10 L247.22,747.09 L248.39,747.07 L249.56,747.06 L250.72,747.05 L251.89,747.04 L253.06,747.03 L254.23,747.01 L255.40,747.00 L256.56,746.99 L257.73,746.98 L258.90,746.96 L260.07,746.95 L261.24,746.94 L262.40,746.92 L263.57,746.91 L264.74,746.89 L265.91,746.88 L267.08,746.86 L268.24,746.85 L269.41,746.84 L270.58,746.82 L271.75,746.81 L272.92,746.79 L274.08,746.78 L275.25,746.76 L276.42,746.74 L277.59,746.73 L278.76,746.71 L279.92,746.70 L281.09,746.68 L282.26,746.66 L283.43,746.65 L284.59,746.63 L285.76,746.61 L286.93,746.60 L288.10,746.58 L289.27,746.56 L290.43,746.55 L291.60,746.53 L292.77,746.51 L293.94,746.49 L295.11,746.48 L296.27,746.46 L297.44,746.44 L298.61,746.42 L299.78,746.40 L300.95,746.38 L302.11,746.37 L303.28,746.35 L304.45,746.32 L305.62,746.30 L306.79,746.28 L307.95,746.25 L309.12,746.23 L310.29,746.20 L311.46,746.17 L312.63,746.14 L313.79,746.11 L314.96,746.07 L316.13,746.04 L317.30,746.00 L318.46,745.96 L319.63,745.91 L320.79,745.87 L321.96,745.81 L323.13,745.73 L324.29,745.65 L325.46,745.56 L326.62,745.47 L327.78,745.37 L328.95,745.27 L330.11,745.16 L331.28,745.05 L332.44,744.95 L333.60,744.85 L334.77,744.75 L335.94,744.65 L337.10,744.54 L338.27,744.42 L339.42,744.28 L340.57,744.11 L341.72,743.89 L342.86,743.62 L344.00,743.32 L345.12,742.98 L346.23,742.62 L347.32,742.24 L348.41,741.81 L349.50,741.33 L350.56,740.82 L351.61,740.26 L352.62,739.68 L353.59,739.07 L354.53,738.41 L355.46,737.68 L356.36,736.90 L357.20,736.06 L357.98,735.19 L358.69,734.30 L359.40,733.35 L360.07,732.34 L360.68,731.30 L361.17,730.24 L361.51,729.17 L361.75,728.08 L361.96,726.97 L362.16,725.83 L362.34,724.68 L362.50,723.51 L362.64,722.34 L362.77,721.15 L362.88,719.97 L362.98,718.78 L363.07,717.60 L363.15,716.42 L363.22,715.25 L363.28,714.09 L363.34,712.92 L363.39,711.76 L363.44,710.59 L363.48,709.42 L363.52,708.25 L363.56,707.09 L363.60,705.92 L363.63,704.75 L363.67,703.58 L363.71,702.41 L363.75,701.25 L363.78,700.08 L363.82,698.91 L363.85,697.74 L363.89,696.58 L363.92,695.41 L363.95,694.24 L363.99,693.07 L364.02,691.91 L364.05,690.74 L364.08,689.57 L364.11,688.40 L364.14,687.23 L364.17,686.07 L364.20,684.90 L364.24,683.73 L364.27,682.56 L364.30,681.40 L364.33,680.23 L364.37,679.06 L364.40,677.89 L364.44,676.73 L364.48,675.56 L364.52,674.39 L364.55,673.22 L364.59,672.06 L364.63,670.89 L364.66,669.72 L364.70,668.55 L364.73,667.39 L364.77,666.22 L364.80,665.05 L364.82,663.88 L364.85,662.72 L364.87,661.55 L364.89,660.38 L364.91,659.21 L364.93,658.04 L364.95,656.88 L364.96,655.71 L364.98,654.54 L364.99,653.37 L365.00,652.20 L365.02,651.04 L365.03,649.87 L365.04,648.70 L365.05,647.53 L365.06,646.37 L365.07,645.20 L365.08,644.03 L365.09,642.86 L365.10,641.69 L365.11,640.52 L365.12,639.36 L365.13,638.19 L365.14,637.02 L365.15,635.85 L365.16,634.68 L365.17,633.52 L365.18,632.35 L365.19,631.18 L365.20,630.01 L365.21,628.84 L365.22,627.68 L365.23,626.51 L365.24,625.34 L365.25,624.17 L365.26,623.00 L365.28,621.84 L365.29,620.67 L365.31,619.50 L365.32,618.33 L365.34,617.16 L365.36,616.00 L365.37,614.83 L365.39,613.66 L365.41,612.49 L365.43,611.32 L365.45,610.16 L365.47,608.99 L365.49,607.82 L365.52,606.65 L365.54,605.49 L365.56,604.32 L365.58,603.15 L365.60,601.98 L365.62,600.81 L365.64,599.65 L365.66,598.48 L365.68,597.31 L365.70,596.14 L365.72,594.97 L365.74,593.81 L365.76,592.64 L365.78,591.47 L365.80,590.30 L365.81,589.13 L365.83,587.97 L365.84,586.80 L365.85,585.63 L365.86,584.46 L365.88,583.29 L365.89,582.13 L365.90,580.96 L365.91,579.79 L365.92,578.62 L365.93,577.45 L365.94,576.28 L365.95,575.12 L365.96,573.95 L365.98,572.78 L365.99,571.61 L366.01,570.44 L366.02,569.28 L366.04,568.11 L366.06,566.94 L366.08,565.77 L366.11,564.61 L366.14,563.44 L366.18,562.27 L366.22,561.10 L366.27,559.93 L366.33,558.77 L366.39,557.60 L366.46,556.43 L366.54,555.27 L366.62,554.10 L366.70,552.94 L366.79,551.78 L366.89,550.61 L367.01,549.45 L367.15,548.28 L367.31,547.11 L367.48,545.95 L367.67,544.79 L367.87,543.63 L368.09,542.49 L368.33,541.35 L368.58,540.22 L368.85,539.10 L369.17,537.95 L369.54,536.79 L369.96,535.64 L370.42,534.53 L370.93,533.46 L371.48,532.48 L372.08,531.60 L372.78,530.76 L373.61,529.96 L374.55,529.19 L375.56,528.48 L376.61,527.83 L377.67,527.26 L378.72,526.79 L379.78,526.39 L380.88,526.02 L382.02,525.69 L383.17,525.40 L384.33,525.16 L385.48,524.97 L386.63,524.82 L387.79,524.67 L388.94,524.54 L390.11,524.42 L391.27,524.31 L392.44,524.21 L393.61,524.12 L394.78,524.04 L395.95,523.97 L397.12,523.91 L398.28,523.85 L399.45,523.80 L400.62,523.75 L401.78,523.70 L402.95,523.66 L404.12,523.61 L405.28,523.57 L406.45,523.53 L407.62,523.50 L408.79,523.46 L409.95,523.43 L411.12,523.40 L412.29,523.37 L413.46,523.34 L414.63,523.31 L415.80,523.29 L416.96,523.26 L418.13,523.24 L419.30,523.21 L420.47,523.19 L421.64,523.17 L422.80,523.15 L423.97,523.13 L425.14,523.11 L426.31,523.09 L427.48,523.07 L428.64,523.06 L429.81,523.04 L430.98,523.02 L432.15,523.01 L433.32,522.99 L434.48,522.98 L435.65,522.97 L436.82,522.95 L437.99,522.94 L439.16,522.93 L440.32,522.91 L441.49,522.90 L442.66,522.89 L443.83,522.88 L445.00,522.87 L446.16,522.86 L447.33,522.85 L448.50,522.84 L449.67,522.83 L450.84,522.82 L452.00,522.81 L453.17,522.80 L454.34,522.79 L455.51,522.78 L456.68,522.77 L457.84,522.76 L459.01,522.75 L460.18,522.74 L461.35,522.73 L462.52,522.73 L463.68,522.72 L464.85,522.71 L466.02,522.70 L467.19,522.69 L468.36,522.68 L469.52,522.68 L470.69,522.67 L471.86,522.66 L473.03,522.65 L474.20,522.64 L475.36,522.63 L476.53,522.63 L477.70,522.62 L478.87,522.61 L480.04,522.60 L481.20,522.59 L482.37,522.58 L483.54,522.57 L484.71,522.57 L485.88,522.56 L487.04,522.55 L488.21,522.54 L489.38,522.53 L490.55,522.52 L491.72,522.52 L492.88,522.51 L494.05,522.50 L495.22,522.49 L496.39,522.48 L497.56,522.48 L498.72,522.47 L499.89,522.46 L501.06,522.45 L502.23,522.44 L503.40,522.43 L504.56,522.43 L505.73,522.42 L506.90,522.41 L508.07,522.40 L509.24,522.39 L510.40,522.38 L511.57,522.37 L512.74,522.36 L513.91,522.35 L515.08,522.34 L516.24,522.33 L517.41,522.32 L518.58,522.31 L519.75,522.30 L520.92,522.29 L522.08,522.28 L523.25,522.27 L524.42,522.25 L525.59,522.24 L526.76,522.23 L527.92,522.21 L529.09,522.20 L530.26,522.18 L531.43,522.17 L532.60,522.15 L533.76,522.14 L534.93,522.12 L536.10,522.11 L537.27,522.09 L538.44,522.08 L539.60,522.06 L540.77,522.04 L541.94,522.03 L543.11,522.01 L544.28,522.00 L545.44,521.98 L546.61,521.96 L547.78,521.95 L548.95,521.93 L550.12,521.92 L551.28,521.90 L552.45,521.89 L553.62,521.87 L554.79,521.86 L555.96,521.84 L557.12,521.83 L558.29,521.82 L559.46,521.81 L560.63,521.79 L561.80,521.78 L562.96,521.77 L564.13,521.76 L565.30,521.75 L566.47,521.74 L567.64,521.72 L568.80,521.71 L569.97,521.70 L571.14,521.69 L572.31,521.68 L573.48,521.67 L574.64,521.66 L575.81,521.65 L576.98,521.64 L578.15,521.63 L579.32,521.62 L580.48,521.61 L581.65,521.60 L582.82,521.59 L583.99,521.58 L585.16,521.57 L586.32,521.56 L587.49,521.55 L588.66,521.54 L589.83,521.53 L591.00,521.53 L592.16,521.52 L593.33,521.51 L594.50,521.50" stroke-width="1.15" stroke-dasharray="22 8" stroke-dashoffset="0"/>
<path d="M90.70,747.60 L91.86,747.60 L93.02,747.60 L94.18,747.60 L95.34,747.60 L96.50,747.60 L97.66,747.60 L98.82,747.60 L99.98,747.60 L101.14,747.60 L102.30,747.60 L103.46,747.60 L104.62,747.60 L105.78,747.60 L106.94,747.59 L108.10,747.59 L109.25,747.59 L110.41,747.59 L111.57,747.59 L112.73,747.59 L113.89,747.59 L115.05,747.59 L116.21,747.59 L117.37,747.59 L118.53,747.58 L119.69,747.58 L120.85,747.58 L122.01,747.58 L123.17,747.58 L124.33,747.58 L125.49,747.58 L126.65,747.57 L127.81,747.57 L128.97,747.57 L130.13,747.57 L131.29,747.57 L132.45,747.57 L133.61,747.56 L134.77,747.56 L135.93,747.56 L137.09,747.56 L138.25,747.56 L139.41,747.55 L140.57,747.55 L141.73,747.55 L142.89,747.55 L144.05,747.54 L145.20,747.54 L146.36,747.54 L147.52,747.54 L148.68,747.54 L149.84,747.53 L151.00,747.53 L152.16,747.53 L153.32,747.53 L154.48,747.52 L155.64,747.52 L156.80,747.52 L157.96,747.51 L159.12,747.51 L160.28,747.51 L161.44,747.51 L162.60,747.50 L163.76,747.50 L164.92,747.50 L166.08,747.50 L167.24,747.49 L168.40,747.49 L169.56,747.49 L170.72,747.48 L171.88,747.48 L173.04,747.48 L174.20,747.47 L175.36,747.47 L176.52,747.47 L177.68,747.47 L178.84,747.46 L179.99,747.46 L181.15,747.46 L182.31,747.45 L183.47,747.45 L184.63,747.45 L185.79,747.44 L186.95,747.44 L188.11,747.44 L189.27,747.43 L190.43,747.43 L191.59,747.43 L192.75,747.42 L193.91,747.42 L195.07,747.41 L196.23,747.41 L197.39,747.41 L198.55,747.40 L199.71,747.40 L200.87,747.40 L202.03,747.39 L203.19,747.39 L204.35,747.39 L205.51,747.38 L206.67,747.38 L207.83,747.37 L208.99,747.37 L210.15,747.36 L211.31,747.36 L212.46,747.35 L213.62,747.34 L214.78,747.34 L215.94,747.33 L217.10,747.33 L218.26,747.32 L219.42,747.31 L220.58,747.31 L221.74,747.30 L222.90,747.29 L224.06,747.29 L225.22,747.28 L226.38,747.27 L227.54,747.26 L228.70,747.25 L229.86,747.25 L231.02,747.24 L232.18,747.23 L233.34,747.22 L234.50,747.21 L235.66,747.20 L236.82,747.19 L237.98,747.19 L239.14,747.18 L240.30,747.17 L241.46,747.16 L242.62,747.15 L243.78,747.14 L244.94,747.13 L246.09,747.12 L247.25,747.11 L248.41,747.10 L249.57,747.09 L250.73,747.07 L251.89,747.06 L253.05,747.05 L254.21,747.04 L255.37,747.03 L256.53,747.02 L257.69,747.01 L258.85,746.99 L260.01,746.98 L261.17,746.97 L262.33,746.96 L263.49,746.95 L264.65,746.93 L265.81,746.92 L266.97,746.91 L268.13,746.90 L269.29,746.88 L270.45,746.87 L271.61,746.86 L272.77,746.84 L273.93,746.83 L275.09,746.82 L276.25,746.80 L277.40,746.79 L278.56,746.77 L279.72,746.76 L280.88,746.75 L282.04,746.73 L283.20,746.72 L284.36,746.70 L285.52,746.69 L286.68,746.67 L287.84,746.66 L289.00,746.65 L290.16,746.63 L291.32,746.62 L292.48,746.60 L293.64,746.58 L294.80,746.57 L295.96,746.55 L297.12,746.54 L298.28,746.52 L299.44,746.51 L300.60,746.49 L301.76,746.48 L302.92,746.46 L304.08,746.44 L305.24,746.43 L306.40,746.41 L307.56,746.39 L308.71,746.37 L309.87,746.35 L311.03,746.33 L312.19,746.31 L313.35,746.28 L314.51,746.25 L315.67,746.23 L316.83,746.20 L317.99,746.16 L319.15,746.13 L320.31,746.09 L321.46,746.04 L322.62,745.98 L323.78,745.91 L324.94,745.83 L326.09,745.74 L327.25,745.64 L328.40,745.54 L329.56,745.44 L330.72,745.33 L331.87,745.23 L333.03,745.12 L334.18,745.02 L335.34,744.92 L336.50,744.81 L337.65,744.70 L338.80,744.56 L339.95,744.41 L341.09,744.22 L342.23,743.98 L343.36,743.70 L344.49,743.39 L345.60,743.06 L346.69,742.70 L347.78,742.31 L348.86,741.87 L349.94,741.39 L350.99,740.88 L352.03,740.33 L353.03,739.75 L353.99,739.14 L354.93,738.48 L355.85,737.76 L356.74,736.98 L357.58,736.15 L358.35,735.30 L359.06,734.41 L359.77,733.47 L360.45,732.48 L361.05,731.45 L361.55,730.40 L361.91,729.35 L362.19,728.27 L362.43,727.17 L362.65,726.05 L362.85,724.92 L363.03,723.76 L363.20,722.60 L363.35,721.43 L363.49,720.26 L363.63,719.08 L363.75,717.91 L363.88,716.74 L364.00,715.58 L364.12,714.43 L364.24,713.28 L364.35,712.13 L364.46,710.97 L364.56,709.81 L364.66,708.66 L364.75,707.50 L364.84,706.34 L364.93,705.19 L365.01,704.03 L365.09,702.87 L365.16,701.72 L365.24,700.56 L365.30,699.40 L365.37,698.24 L365.44,697.09 L365.50,695.93 L365.56,694.77 L365.62,693.61 L365.67,692.45 L365.73,691.30 L365.79,690.14 L365.84,688.98 L365.90,687.82 L365.95,686.66 L366.00,685.50 L366.06,684.34 L366.11,683.19 L366.17,682.03 L366.23,680.87 L366.28,679.71 L366.34,678.55 L366.40,677.39 L366.46,676.24 L366.52,675.08 L366.58,673.92 L366.64,672.76 L366.69,671.60 L366.75,670.44 L366.81,669.29 L366.86,668.13 L366.92,666.97 L366.97,665.81 L367.02,664.65 L367.07,663.49 L367.11,662.34 L367.16,661.18 L367.20,660.02 L367.24,658.86 L367.28,657.70 L367.31,656.54 L367.35,655.38 L367.38,654.22 L367.42,653.06 L367.45,651.90 L367.48,650.75 L367.51,649.59 L367.54,648.43 L367.57,647.27 L367.60,646.11 L367.63,644.95 L367.65,643.79 L367.68,642.63 L367.71,641.47 L367.74,640.31 L367.77,639.15 L367.80,637.99 L367.83,636.83 L367.86,635.67 L367.89,634.51 L367.92,633.36 L367.95,632.20 L367.98,631.04 L368.01,629.88 L368.04,628.72 L368.07,627.56 L368.10,626.40 L368.13,625.24 L368.16,624.08 L368.19,622.92 L368.22,621.76 L368.25,620.60 L368.28,619.44 L368.31,618.28 L368.34,617.13 L368.37,615.97 L368.40,614.81 L368.43,613.65 L368.46,612.49 L368.49,611.33 L368.52,610.17 L368.55,609.01 L368.58,607.85 L368.62,606.69 L368.65,605.53 L368.68,604.37 L368.71,603.21 L368.74,602.06 L368.77,600.90 L368.81,599.74 L368.84,598.58 L368.87,597.42 L368.91,596.26 L368.94,595.10 L368.98,593.94 L369.01,592.78 L369.05,591.62 L369.08,590.46 L369.12,589.30 L369.16,588.15 L369.19,586.99 L369.23,585.83 L369.26,584.67 L369.30,583.51 L369.33,582.35 L369.37,581.19 L369.40,580.03 L369.43,578.87 L369.46,577.71 L369.49,576.55 L369.52,575.39 L369.54,574.23 L369.56,573.07 L369.59,571.91 L369.61,570.75 L369.64,569.59 L369.66,568.43 L369.69,567.27 L369.72,566.11 L369.75,564.95 L369.79,563.79 L369.82,562.63 L369.87,561.47 L369.91,560.32 L369.96,559.16 L370.01,558.01 L370.08,556.85 L370.17,555.69 L370.28,554.53 L370.40,553.37 L370.54,552.21 L370.69,551.06 L370.86,549.90 L371.04,548.75 L371.23,547.61 L371.43,546.47 L371.64,545.34 L371.86,544.22 L372.11,543.08 L372.41,541.94 L372.74,540.80 L373.12,539.67 L373.53,538.57 L373.98,537.50 L374.46,536.47 L374.97,535.49 L375.58,534.53 L376.29,533.58 L377.08,532.67 L377.92,531.82 L378.80,531.04 L379.69,530.37 L380.64,529.75 L381.65,529.17 L382.72,528.64 L383.81,528.17 L384.91,527.79 L386.00,527.48 L387.12,527.20 L388.25,526.95 L389.40,526.73 L390.55,526.53 L391.70,526.34 L392.86,526.16 L394.00,526.00 L395.15,525.85 L396.30,525.70 L397.45,525.56 L398.60,525.43 L399.76,525.31 L400.91,525.19 L402.07,525.08 L403.22,524.97 L404.38,524.87 L405.53,524.76 L406.69,524.66 L407.84,524.56 L409.00,524.46 L410.16,524.36 L411.31,524.27 L412.47,524.18 L413.63,524.10 L414.78,524.01 L415.94,523.94 L417.10,523.86 L418.25,523.79 L419.41,523.73 L420.57,523.67 L421.73,523.61 L422.89,523.56 L424.04,523.50 L425.20,523.45 L426.36,523.39 L427.52,523.34 L428.68,523.29 L429.84,523.24 L431.00,523.20 L432.16,523.15 L433.32,523.11 L434.47,523.07 L435.63,523.03 L436.79,523.00 L437.95,522.97 L439.11,522.95 L440.27,522.92 L441.43,522.90 L442.59,522.89 L443.75,522.87 L444.91,522.86 L446.07,522.85 L447.23,522.83 L448.39,522.82 L449.55,522.81 L450.71,522.80 L451.87,522.79 L453.02,522.78 L454.18,522.77 L455.34,522.76 L456.50,522.75 L457.66,522.74 L458.82,522.73 L459.98,522.73 L461.14,522.72 L462.30,522.71 L463.46,522.70 L464.62,522.70 L465.78,522.69 L466.94,522.68 L468.10,522.68 L469.26,522.67 L470.42,522.66 L471.58,522.66 L472.74,522.65 L473.90,522.64 L475.06,522.63 L476.22,522.63 L477.38,522.62 L478.54,522.61 L479.70,522.60 L480.86,522.59 L482.02,522.58 L483.18,522.58 L484.34,522.57 L485.50,522.56 L486.66,522.55 L487.82,522.54 L488.98,522.53 L490.14,522.53 L491.29,522.52 L492.45,522.51 L493.61,522.50 L494.77,522.49 L495.93,522.49 L497.09,522.48 L498.25,522.47 L499.41,522.46 L500.57,522.45 L501.73,522.45 L502.89,522.44 L504.05,522.43 L505.21,522.42 L506.37,522.41 L507.53,522.40 L508.69,522.40 L509.85,522.39 L511.01,522.38 L512.17,522.37 L513.33,522.36 L514.49,522.35 L515.65,522.34 L516.81,522.33 L517.97,522.32 L519.13,522.31 L520.29,522.30 L521.45,522.29 L522.60,522.27 L523.76,522.26 L524.92,522.25 L526.08,522.24 L527.24,522.22 L528.40,522.21 L529.56,522.19 L530.72,522.18 L531.88,522.16 L533.04,522.15 L534.20,522.13 L535.36,522.12 L536.52,522.10 L537.68,522.09 L538.84,522.07 L540.00,522.05 L541.16,522.04 L542.32,522.02 L543.48,522.01 L544.64,521.99 L545.80,521.97 L546.96,521.96 L548.12,521.94 L549.27,521.93 L550.43,521.91 L551.59,521.90 L552.75,521.88 L553.91,521.87 L555.07,521.85 L556.23,521.84 L557.39,521.83 L558.55,521.82 L559.71,521.80 L560.87,521.79 L562.03,521.78 L563.19,521.77 L564.35,521.76 L565.51,521.74 L566.67,521.73 L567.83,521.72 L568.99,521.71 L570.15,521.70 L571.31,521.69 L572.47,521.68 L573.63,521.67 L574.79,521.66 L575.95,521.65 L577.11,521.64 L578.27,521.63 L579.42,521.62 L580.58,521.61 L581.74,521.60 L582.90,521.59 L584.06,521.58 L585.22,521.57 L586.38,521.56 L587.54,521.55 L588.70,521.54 L589.86,521.53 L591.02,521.52 L592.18,521.52 L593.34,521.51 L594.50,521.50" stroke-width="2.0"/>
<line x1="458.10" y1="659.20" x2="500.60" y2="659.20" stroke-width="1.35" stroke-dasharray="5.3 4"/>
<line x1="495.40" y1="659.20" x2="504.00" y2="659.20" stroke-width="1.35"/>
<line x1="458.10" y1="689.10" x2="508.80" y2="689.10" stroke-width="2.0"/>
<line x1="458.10" y1="719.20" x2="508.80" y2="719.20" stroke-width="1.15" stroke-dasharray="22 8"/>
</g>
<g fill="#fff" stroke="#000" stroke-width="2.0">
<ellipse cx="103.0" cy="127.2" rx="2.6" ry="2.5" fill="none"/>
<ellipse cx="150.7" cy="131.8" rx="2.6" ry="2.5" fill="none"/>
<ellipse cx="159.6" cy="129.3" rx="2.6" ry="2.5" fill="none"/>
<ellipse cx="160.6" cy="129.6" rx="2.6" ry="2.5" fill="none"/>
<ellipse cx="179.3" cy="124.1" rx="2.6" ry="2.5" fill="none"/>
<ellipse cx="200.0" cy="132.1" rx="2.6" ry="2.5" fill="none"/>
<ellipse cx="217.0" cy="137.1" rx="2.6" ry="2.5" fill="none"/>
<ellipse cx="235.8" cy="138.5" rx="2.6" ry="2.5" fill="none"/>
<ellipse cx="245.4" cy="146.5" rx="2.6" ry="2.5" fill="none"/>
<ellipse cx="254.5" cy="147.4" rx="2.6" ry="2.5" fill="none"/>
<ellipse cx="254.5" cy="149.0" rx="2.6" ry="2.5" fill="none"/>
<ellipse cx="264.3" cy="148.6" rx="2.6" ry="2.5" fill="none"/>
<ellipse cx="264.3" cy="156.8" rx="2.6" ry="2.5" fill="none"/>
<ellipse cx="328.3" cy="153.0" rx="2.6" ry="2.5"/>
<ellipse cx="347.0" cy="162.4" rx="2.6" ry="2.5"/>
<ellipse cx="358.8" cy="182.5" rx="2.6" ry="2.5"/>
<ellipse cx="385.3" cy="181.0" rx="2.6" ry="2.5"/>
<ellipse cx="403.8" cy="185.8" rx="2.6" ry="2.5"/>
<ellipse cx="422.8" cy="196.2" rx="2.6" ry="2.5"/>
<ellipse cx="441.7" cy="202.7" rx="2.6" ry="2.5"/>
<ellipse cx="479.5" cy="231.6" rx="2.6" ry="2.5"/>
<ellipse cx="484.3" cy="233.3" rx="2.6" ry="2.5"/>
<ellipse cx="489.1" cy="236.9" rx="2.6" ry="2.5"/>
<ellipse cx="493.9" cy="239.9" rx="2.6" ry="2.5"/>
<ellipse cx="498.7" cy="243.2" rx="2.6" ry="2.5"/>
<ellipse cx="503.3" cy="241.6" rx="2.6" ry="2.5"/>
<ellipse cx="505.1" cy="248.2" rx="2.6" ry="2.5"/>
<ellipse cx="522.2" cy="238.1" rx="2.6" ry="2.5"/>
<ellipse cx="526.9" cy="238.6" rx="2.6" ry="2.5"/>
<ellipse cx="531.9" cy="239.9" rx="2.6" ry="2.5"/>
<ellipse cx="536.9" cy="239.9" rx="2.6" ry="2.5"/>
<ellipse cx="532.6" cy="244.2" rx="2.6" ry="2.5"/>
<ellipse cx="542.2" cy="250.0" rx="2.6" ry="2.5"/>
<ellipse cx="546.7" cy="245.0" rx="2.6" ry="2.5"/>
<ellipse cx="551.3" cy="240.6" rx="2.6" ry="2.5"/>
<ellipse cx="556.0" cy="237.4" rx="2.6" ry="2.5"/>
<ellipse cx="565.3" cy="241.6" rx="2.6" ry="2.5"/>
<ellipse cx="575.0" cy="242.6" rx="2.6" ry="2.5"/>
<ellipse cx="584.2" cy="254.9" rx="2.6" ry="2.5"/>
<ellipse cx="102.8" cy="384.9" rx="2.6" ry="2.5" fill="none"/>
<ellipse cx="150.8" cy="382.3" rx="2.6" ry="2.5" fill="none"/>
<ellipse cx="159.9" cy="378.3" rx="2.6" ry="2.5" fill="none"/>
<ellipse cx="159.9" cy="384.4" rx="2.6" ry="2.5" fill="none"/>
<ellipse cx="179.3" cy="381.5" rx="2.6" ry="2.5" fill="none"/>
<ellipse cx="200.1" cy="377.5" rx="2.6" ry="2.5" fill="none"/>
<ellipse cx="217.2" cy="379.1" rx="2.6" ry="2.5" fill="none"/>
<ellipse cx="235.4" cy="379.7" rx="2.6" ry="2.5" fill="none"/>
<ellipse cx="245.2" cy="381.3" rx="2.6" ry="2.5" fill="none"/>
<ellipse cx="254.4" cy="381.8" rx="2.6" ry="2.5" fill="none"/>
<ellipse cx="254.4" cy="385.3" rx="2.6" ry="2.5" fill="none"/>
<ellipse cx="264.2" cy="380.0" rx="2.6" ry="2.5" fill="none"/>
<ellipse cx="264.2" cy="384.2" rx="2.6" ry="2.5" fill="none"/>
<ellipse cx="273.8" cy="384.0" rx="2.6" ry="2.5" fill="none"/>
<ellipse cx="273.8" cy="390.0" rx="2.6" ry="2.5" fill="none"/>
<ellipse cx="283.1" cy="381.4" rx="2.6" ry="2.5" fill="none"/>
<ellipse cx="290.8" cy="385.3" rx="2.6" ry="2.5" fill="none"/>
<ellipse cx="302.0" cy="381.4" rx="2.6" ry="2.5"/>
<ellipse cx="309.5" cy="389.8" rx="2.6" ry="2.5"/>
<ellipse cx="328.5" cy="387.2" rx="2.6" ry="2.5"/>
<ellipse cx="347.3" cy="386.7" rx="2.6" ry="2.5"/>
<ellipse cx="359.0" cy="391.7" rx="2.6" ry="2.5"/>
<ellipse cx="378.4" cy="386.4" rx="2.6" ry="2.5"/>
<ellipse cx="384.9" cy="389.9" rx="2.6" ry="2.5"/>
<ellipse cx="404.0" cy="388.0" rx="2.6" ry="2.5"/>
<ellipse cx="422.9" cy="386.4" rx="2.6" ry="2.5"/>
<ellipse cx="441.7" cy="382.7" rx="2.6" ry="2.5"/>
<ellipse cx="479.5" cy="374.7" rx="2.6" ry="2.5"/>
<ellipse cx="484.3" cy="368.0" rx="2.6" ry="2.5"/>
<ellipse cx="489.1" cy="362.7" rx="2.6" ry="2.5"/>
<ellipse cx="493.9" cy="353.6" rx="2.6" ry="2.5"/>
<ellipse cx="498.7" cy="333.9" rx="2.6" ry="2.5"/>
<ellipse cx="503.2" cy="303.5" rx="2.6" ry="2.5"/>
<ellipse cx="505.1" cy="281.6" rx="2.6" ry="2.5"/>
<ellipse cx="309.7" cy="746.0" rx="2.6" ry="2.5" fill-opacity="0.75"/>
<ellipse cx="320.8" cy="745.5" rx="2.6" ry="2.5" fill-opacity="0.75"/>
<ellipse cx="328.3" cy="744.2" rx="2.6" ry="2.5" fill-opacity="0.75"/>
<ellipse cx="347.3" cy="741.3" rx="2.6" ry="2.5" fill-opacity="0.75"/>
<ellipse cx="359.0" cy="733.3" rx="2.6" ry="2.5" fill-opacity="0.75"/>
<ellipse cx="378.3" cy="533.7" rx="2.6" ry="2.5" fill-opacity="0.75"/>
<ellipse cx="385.1" cy="527.9" rx="2.6" ry="2.5" fill-opacity="0.75"/>
<ellipse cx="404.0" cy="525.3" rx="2.6" ry="2.5" fill-opacity="0.75"/>
<ellipse cx="422.8" cy="523.7" rx="2.6" ry="2.5" fill-opacity="0.75"/>
<ellipse cx="441.7" cy="522.5" rx="2.6" ry="2.5" fill-opacity="0.75"/>
<ellipse cx="479.7" cy="525.0" rx="2.6" ry="2.5" fill-opacity="0.75"/>
<ellipse cx="484.5" cy="525.0" rx="2.6" ry="2.5" fill-opacity="0.75"/>
<ellipse cx="489.2" cy="525.3" rx="2.6" ry="2.5" fill-opacity="0.75"/>
<ellipse cx="493.8" cy="525.2" rx="2.6" ry="2.5" fill-opacity="0.75"/>
<ellipse cx="498.5" cy="524.9" rx="2.6" ry="2.5" fill-opacity="0.75"/>
<ellipse cx="503.2" cy="524.3" rx="2.6" ry="2.5" fill-opacity="0.75"/>
<ellipse cx="505.0" cy="523.3" rx="2.6" ry="2.5" fill-opacity="0.75"/>
<ellipse cx="512.4" cy="526.6" rx="2.6" ry="2.5" fill-opacity="0.75"/>
<ellipse cx="517.5" cy="525.7" rx="2.6" ry="2.5" fill-opacity="0.75"/>
<ellipse cx="522.5" cy="523.0" rx="2.6" ry="2.5" fill-opacity="0.75"/>
<ellipse cx="527.2" cy="522.8" rx="2.6" ry="2.5" fill-opacity="0.75"/>
<ellipse cx="532.2" cy="523.0" rx="2.6" ry="2.5" fill-opacity="0.75"/>
<ellipse cx="537.1" cy="523.0" rx="2.6" ry="2.5" fill-opacity="0.75"/>
<ellipse cx="541.9" cy="523.0" rx="2.6" ry="2.5" fill-opacity="0.75"/>
<ellipse cx="546.8" cy="523.0" rx="2.6" ry="2.5" fill-opacity="0.75"/>
<ellipse cx="551.4" cy="522.0" rx="2.6" ry="2.5" fill-opacity="0.75"/>
<ellipse cx="556.0" cy="521.1" rx="2.6" ry="2.5" fill-opacity="0.75"/>
<ellipse cx="565.2" cy="521.5" rx="2.6" ry="2.5" fill-opacity="0.75"/>
<ellipse cx="574.7" cy="521.5" rx="2.6" ry="2.5" fill-opacity="0.75"/>
<ellipse cx="584.1" cy="521.1" rx="2.6" ry="2.5" fill-opacity="0.75"/>
</g>
<g fill="none" stroke="#000" stroke-linecap="butt">
<rect x="90.7" y="3.4" width="503.80" height="756.00" stroke-width="2.1"/>
<line x1="90.70" y1="255.40" x2="594.50" y2="255.40" stroke-width="2.1"/>
<line x1="90.70" y1="507.50" x2="594.50" y2="507.50" stroke-width="2.1"/>
<line x1="153.68" y1="3.40" x2="153.68" y2="8.40" stroke-width="2.0"/>
<line x1="153.68" y1="255.40" x2="153.68" y2="250.40" stroke-width="2.0"/>
<line x1="216.65" y1="3.40" x2="216.65" y2="13.70" stroke-width="2.0"/>
<line x1="216.65" y1="255.40" x2="216.65" y2="245.10" stroke-width="2.0"/>
<line x1="279.62" y1="3.40" x2="279.62" y2="8.40" stroke-width="2.0"/>
<line x1="279.62" y1="255.40" x2="279.62" y2="250.40" stroke-width="2.0"/>
<line x1="342.60" y1="3.40" x2="342.60" y2="13.70" stroke-width="2.0"/>
<line x1="342.60" y1="255.40" x2="342.60" y2="245.10" stroke-width="2.0"/>
<line x1="405.57" y1="3.40" x2="405.57" y2="8.40" stroke-width="2.0"/>
<line x1="405.57" y1="255.40" x2="405.57" y2="250.40" stroke-width="2.0"/>
<line x1="468.55" y1="3.40" x2="468.55" y2="13.70" stroke-width="2.0"/>
<line x1="468.55" y1="255.40" x2="468.55" y2="245.10" stroke-width="2.0"/>
<line x1="531.52" y1="3.40" x2="531.52" y2="8.40" stroke-width="2.0"/>
<line x1="531.52" y1="255.40" x2="531.52" y2="250.40" stroke-width="2.0"/>
<line x1="153.68" y1="255.40" x2="153.68" y2="260.40" stroke-width="2.0"/>
<line x1="153.68" y1="507.50" x2="153.68" y2="502.50" stroke-width="2.0"/>
<line x1="216.65" y1="255.40" x2="216.65" y2="265.70" stroke-width="2.0"/>
<line x1="216.65" y1="507.50" x2="216.65" y2="497.20" stroke-width="2.0"/>
<line x1="279.62" y1="255.40" x2="279.62" y2="260.40" stroke-width="2.0"/>
<line x1="279.62" y1="507.50" x2="279.62" y2="502.50" stroke-width="2.0"/>
<line x1="342.60" y1="255.40" x2="342.60" y2="265.70" stroke-width="2.0"/>
<line x1="342.60" y1="507.50" x2="342.60" y2="497.20" stroke-width="2.0"/>
<line x1="405.57" y1="255.40" x2="405.57" y2="260.40" stroke-width="2.0"/>
<line x1="405.57" y1="507.50" x2="405.57" y2="502.50" stroke-width="2.0"/>
<line x1="468.55" y1="255.40" x2="468.55" y2="265.70" stroke-width="2.0"/>
<line x1="468.55" y1="507.50" x2="468.55" y2="497.20" stroke-width="2.0"/>
<line x1="531.52" y1="255.40" x2="531.52" y2="260.40" stroke-width="2.0"/>
<line x1="531.52" y1="507.50" x2="531.52" y2="502.50" stroke-width="2.0"/>
<line x1="153.68" y1="507.50" x2="153.68" y2="512.50" stroke-width="2.0"/>
<line x1="153.68" y1="759.40" x2="153.68" y2="754.40" stroke-width="2.0"/>
<line x1="216.65" y1="507.50" x2="216.65" y2="517.80" stroke-width="2.0"/>
<line x1="216.65" y1="759.40" x2="216.65" y2="749.10" stroke-width="2.0"/>
<line x1="279.62" y1="507.50" x2="279.62" y2="512.50" stroke-width="2.0"/>
<line x1="279.62" y1="759.40" x2="279.62" y2="754.40" stroke-width="2.0"/>
<line x1="342.60" y1="507.50" x2="342.60" y2="517.80" stroke-width="2.0"/>
<line x1="342.60" y1="759.40" x2="342.60" y2="749.10" stroke-width="2.0"/>
<line x1="405.57" y1="507.50" x2="405.57" y2="512.50" stroke-width="2.0"/>
<line x1="405.57" y1="759.40" x2="405.57" y2="754.40" stroke-width="2.0"/>
<line x1="468.55" y1="507.50" x2="468.55" y2="517.80" stroke-width="2.0"/>
<line x1="468.55" y1="759.40" x2="468.55" y2="749.10" stroke-width="2.0"/>
<line x1="531.52" y1="507.50" x2="531.52" y2="512.50" stroke-width="2.0"/>
<line x1="531.52" y1="759.40" x2="531.52" y2="754.40" stroke-width="2.0"/>
<line x1="90.70" y1="213.40" x2="100.70" y2="213.40" stroke-width="2.0"/>
<line x1="594.50" y1="213.40" x2="584.50" y2="213.40" stroke-width="2.0"/>
<line x1="90.70" y1="171.40" x2="100.70" y2="171.40" stroke-width="2.0"/>
<line x1="594.50" y1="171.40" x2="584.50" y2="171.40" stroke-width="2.0"/>
<line x1="90.70" y1="129.40" x2="105.90" y2="129.40" stroke-width="2.0"/>
<line x1="594.50" y1="129.40" x2="579.30" y2="129.40" stroke-width="2.0"/>
<line x1="90.70" y1="87.40" x2="100.70" y2="87.40" stroke-width="2.0"/>
<line x1="594.50" y1="87.40" x2="584.50" y2="87.40" stroke-width="2.0"/>
<line x1="90.70" y1="45.40" x2="100.70" y2="45.40" stroke-width="2.0"/>
<line x1="594.50" y1="45.40" x2="584.50" y2="45.40" stroke-width="2.0"/>
<line x1="90.70" y1="465.48" x2="100.70" y2="465.48" stroke-width="2.0"/>
<line x1="594.50" y1="465.48" x2="584.50" y2="465.48" stroke-width="2.0"/>
<line x1="90.70" y1="423.47" x2="100.70" y2="423.47" stroke-width="2.0"/>
<line x1="594.50" y1="423.47" x2="584.50" y2="423.47" stroke-width="2.0"/>
<line x1="90.70" y1="381.45" x2="105.90" y2="381.45" stroke-width="2.0"/>
<line x1="594.50" y1="381.45" x2="579.30" y2="381.45" stroke-width="2.0"/>
<line x1="90.70" y1="339.43" x2="100.70" y2="339.43" stroke-width="2.0"/>
<line x1="594.50" y1="339.43" x2="584.50" y2="339.43" stroke-width="2.0"/>
<line x1="90.70" y1="297.42" x2="100.70" y2="297.42" stroke-width="2.0"/>
<line x1="594.50" y1="297.42" x2="584.50" y2="297.42" stroke-width="2.0"/>
<line x1="90.70" y1="747.05" x2="105.90" y2="747.05" stroke-width="2.0"/>
<line x1="594.50" y1="747.05" x2="579.30" y2="747.05" stroke-width="2.0"/>
<line x1="90.70" y1="734.46" x2="100.70" y2="734.46" stroke-width="2.0"/>
<line x1="594.50" y1="734.46" x2="584.50" y2="734.46" stroke-width="2.0"/>
<line x1="90.70" y1="721.87" x2="100.70" y2="721.87" stroke-width="2.0"/>
<line x1="594.50" y1="721.87" x2="584.50" y2="721.87" stroke-width="2.0"/>
<line x1="90.70" y1="709.27" x2="100.70" y2="709.27" stroke-width="2.0"/>
<line x1="594.50" y1="709.27" x2="584.50" y2="709.27" stroke-width="2.0"/>
<line x1="90.70" y1="696.67" x2="100.70" y2="696.67" stroke-width="2.0"/>
<line x1="594.50" y1="696.67" x2="584.50" y2="696.67" stroke-width="2.0"/>
<line x1="90.70" y1="684.08" x2="100.70" y2="684.08" stroke-width="2.0"/>
<line x1="594.50" y1="684.08" x2="584.50" y2="684.08" stroke-width="2.0"/>
<line x1="90.70" y1="671.48" x2="100.70" y2="671.48" stroke-width="2.0"/>
<line x1="594.50" y1="671.48" x2="584.50" y2="671.48" stroke-width="2.0"/>
<line x1="90.70" y1="658.89" x2="100.70" y2="658.89" stroke-width="2.0"/>
<line x1="594.50" y1="658.89" x2="584.50" y2="658.89" stroke-width="2.0"/>
<line x1="90.70" y1="646.29" x2="100.70" y2="646.29" stroke-width="2.0"/>
<line x1="594.50" y1="646.29" x2="584.50" y2="646.29" stroke-width="2.0"/>
<line x1="90.70" y1="633.70" x2="100.70" y2="633.70" stroke-width="2.0"/>
<line x1="594.50" y1="633.70" x2="584.50" y2="633.70" stroke-width="2.0"/>
<line x1="90.70" y1="621.11" x2="105.90" y2="621.11" stroke-width="2.0"/>
<line x1="594.50" y1="621.11" x2="579.30" y2="621.11" stroke-width="2.0"/>
<line x1="90.70" y1="608.51" x2="100.70" y2="608.51" stroke-width="2.0"/>
<line x1="594.50" y1="608.51" x2="584.50" y2="608.51" stroke-width="2.0"/>
<line x1="90.70" y1="595.91" x2="100.70" y2="595.91" stroke-width="2.0"/>
<line x1="594.50" y1="595.91" x2="584.50" y2="595.91" stroke-width="2.0"/>
<line x1="90.70" y1="583.32" x2="100.70" y2="583.32" stroke-width="2.0"/>
<line x1="594.50" y1="583.32" x2="584.50" y2="583.32" stroke-width="2.0"/>
<line x1="90.70" y1="570.72" x2="100.70" y2="570.72" stroke-width="2.0"/>
<line x1="594.50" y1="570.72" x2="584.50" y2="570.72" stroke-width="2.0"/>
<line x1="90.70" y1="558.13" x2="100.70" y2="558.13" stroke-width="2.0"/>
<line x1="594.50" y1="558.13" x2="584.50" y2="558.13" stroke-width="2.0"/>
<line x1="90.70" y1="545.53" x2="100.70" y2="545.53" stroke-width="2.0"/>
<line x1="594.50" y1="545.53" x2="584.50" y2="545.53" stroke-width="2.0"/>
<line x1="90.70" y1="532.94" x2="100.70" y2="532.94" stroke-width="2.0"/>
<line x1="594.50" y1="532.94" x2="584.50" y2="532.94" stroke-width="2.0"/>
<line x1="90.70" y1="520.35" x2="100.70" y2="520.35" stroke-width="2.0"/>
<line x1="594.50" y1="520.35" x2="584.50" y2="520.35" stroke-width="2.0"/>
</g>
<text class="h" transform="translate(78.40,52.80) scale(1.08,1)" font-size="20" text-anchor="end">20</text>
<text class="h" transform="translate(78.40,304.90) scale(1.08,1)" font-size="20" text-anchor="end">20</text>
<text class="h" transform="translate(78.40,136.80) scale(1.08,1)" font-size="20" text-anchor="end">0</text>
<text class="h" transform="translate(78.40,388.90) scale(1.08,1)" font-size="20" text-anchor="end">0</text>
<text class="h" transform="translate(78.40,220.80) scale(1.08,1)" font-size="20" text-anchor="end">−20</text>
<text class="h" transform="translate(78.40,472.90) scale(1.08,1)" font-size="20" text-anchor="end">−20</text>
<text class="h" transform="translate(78.40,565.33) scale(1.08,1)" font-size="20" text-anchor="end">150</text>
<text class="h" transform="translate(78.40,640.90) scale(1.08,1)" font-size="20" text-anchor="end">90</text>
<text class="h" transform="translate(78.40,716.47) scale(1.08,1)" font-size="20" text-anchor="end">30</text>
<text class="h" transform="translate(90.70,784.50) scale(1.1,1)" font-size="20" text-anchor="middle">1</text>
<text class="h" transform="translate(216.65,784.50) scale(1.1,1)" font-size="20" text-anchor="middle">2</text>
<text class="h" transform="translate(342.60,784.50) scale(1.1,1)" font-size="20" text-anchor="middle">3</text>
<text class="h" transform="translate(468.55,784.50) scale(1.1,1)" font-size="20" text-anchor="middle">4</text>
<text class="h" transform="translate(594.50,784.50) scale(1.1,1)" font-size="20" text-anchor="middle">5</text>
<text class="h" transform="translate(116.00,225.10) scale(1.01,1)" font-size="22.5" text-anchor="start">(a)</text>
<text class="h" transform="translate(116.00,477.50) scale(1.01,1)" font-size="22.5" text-anchor="start">(b)</text>
<text class="h" transform="translate(116.00,729.30) scale(1.01,1)" font-size="22.5" text-anchor="start">(c)</text>
<text class="t" transform="translate(22.1,168.7) rotate(-90) scale(1.1,0.88)" font-size="29">δ</text>
<text class="h" transform="translate(25.6,145.6) rotate(-90) scale(1,0.98)" font-size="28.1">(deg)</text>
<text class="t" transform="translate(22.1,420.8) rotate(-90) scale(1.1,0.88)" font-size="29">δ</text>
<text class="h" transform="translate(25.6,397.7) rotate(-90) scale(1,0.98)" font-size="28.1">(deg)</text>
<text class="t" transform="translate(22.1,672.8) rotate(-90) scale(1.1,0.88)" font-size="29">δ</text>
<text class="h" transform="translate(25.6,649.7) rotate(-90) scale(1,0.98)" font-size="28.1">(deg)</text>
<text class="h" transform="translate(267.20,830.40) scale(0.93,1)" font-size="28.7" text-anchor="start">E</text>
<text class="h" transform="translate(284.60,836.70) scale(1.1,1)" font-size="18" text-anchor="start">c.m.</text>
<text class="h" transform="translate(338.60,830.40) scale(0.985,1)" font-size="28.7" text-anchor="start">(MeV)</text>
<text class="t" transform="translate(327.80,54.70) scale(1.12,1)" font-size="31" text-anchor="start">α</text>
<text class="t" transform="translate(352.60,54.90) scale(1.1,1)" font-size="26" text-anchor="start">+</text>
<text class="t" transform="translate(370.00,38.20) scale(1.02,1)" font-size="18" text-anchor="start">12</text>
<text class="t" transform="translate(388.40,54.90) scale(1.1,1)" font-size="26" text-anchor="start">C phase shifts</text>
<text class="t" transform="translate(135.4,85.0) scale(1.16,1)" font-size="27.5"><tspan font-style="italic">l</tspan>=0</text>
<text class="t" transform="translate(135.4,337.1) scale(1.16,1)" font-size="27.5"><tspan font-style="italic">l</tspan>=2</text>
<text class="t" transform="translate(135.4,589.1) scale(1.16,1)" font-size="27.5"><tspan font-style="italic">l</tspan>=4</text>
<text class="t" transform="translate(518.80,668.60) scale(1.065,1)" font-size="23.3" text-anchor="start">P4b</text>
<text class="t" transform="translate(518.80,698.80) scale(1.065,1)" font-size="23.3" text-anchor="start">P4d</text>
<text class="t" transform="translate(518.80,729.10) scale(1.065,1)" font-size="23.3" text-anchor="start">P4f</text>
</svg></body></html>
